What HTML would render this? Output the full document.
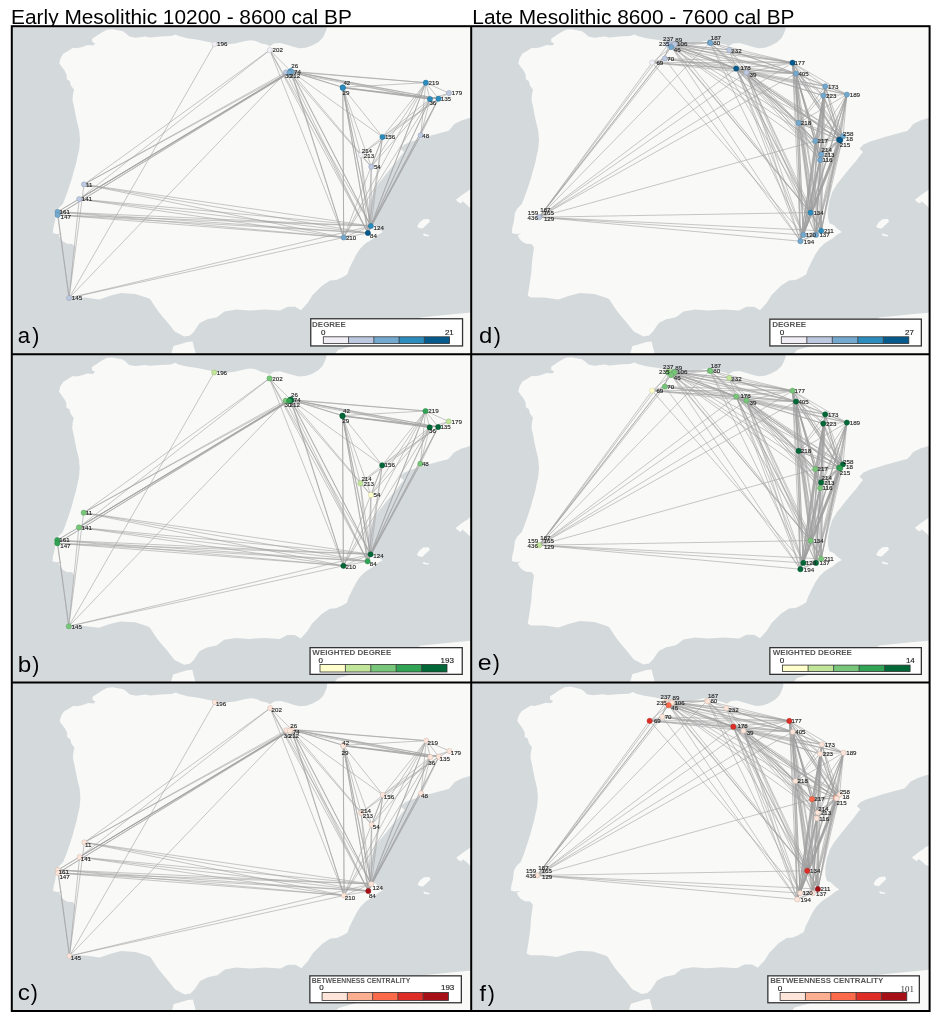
<!DOCTYPE html>
<html><head><meta charset="utf-8"><title>Mesolithic networks</title>
<style>
html,body{margin:0;padding:0;background:#fff;}
body{width:942px;height:1023px;overflow:hidden;}
svg{display:block;}
text{font-family:"Liberation Sans",Arial,Helvetica,sans-serif;}
.lbl{font-size:6.2px;fill:#222;stroke:#222;stroke-width:0.12px;}
.edge{stroke:#a0a0a0;stroke-width:1.0;stroke-opacity:0.58;fill:none;}
.lt{font-size:7.8px;fill:#3a3a3a;}
.pl{font-size:21.5px;fill:#111;}
</style></head><body>
<svg width="942" height="1023" viewBox="0 0 942 1023">
<rect x="0" y="0" width="942" height="1023" fill="#fff"/>
<text x="11.1" y="23.7" font-size="20.85" fill="#000" textLength="340.7" lengthAdjust="spacingAndGlyphs">Early Mesolithic 10200 - 8600 cal BP</text>
<text x="472.3" y="23.7" font-size="20.85" fill="#000" textLength="322.2" lengthAdjust="spacingAndGlyphs">Late Mesolithic 8600 - 7600 cal BP</text>
<defs>
<clipPath id="clipa"><rect x="11.8" y="26.2" width="459.4" height="328.1"/></clipPath>
<clipPath id="clipb"><rect x="11.8" y="354.3" width="459.4" height="328.2"/></clipPath>
<clipPath id="clipc"><rect x="11.8" y="682.5" width="459.4" height="328.5"/></clipPath>
<clipPath id="clipd"><rect x="471.2" y="26.2" width="458.4" height="328.1"/></clipPath>
<clipPath id="clipe"><rect x="471.2" y="354.3" width="458.4" height="328.2"/></clipPath>
<clipPath id="clipf"><rect x="471.2" y="682.5" width="458.4" height="328.5"/></clipPath>
</defs>
<g clip-path="url(#clipa)">
<rect x="11.8" y="26.2" width="459.4" height="328.1" fill="#d4d9dc"/>
<path transform="translate(0,0)" d="M92.2,38.7 L96.4,36.1 L101.7,32.4 L107.0,29.7 L112.3,29.2 L117.6,30.2 L122.9,31.3 L126.1,33.4 L129.3,36.6 L135.7,37.7 L145.2,36.6 L150.0,37.5 L160.6,36.6 L171.2,36.1 L175.5,34.5 L178.7,36.1 L187.2,38.2 L197.8,39.8 L208.4,41.9 L213.7,43.0 L224.3,44.6 L234.9,43.5 L245.3,40.9 L250.6,40.3 L255.9,40.9 L261.2,43.5 L266.5,44.6 L269.7,46.2 L274.0,43.5 L280.3,43.0 L287.8,45.1 L293.1,46.7 L299.4,48.3 L305.8,47.8 L312.2,45.6 L318.6,41.9 L322.8,37.7 L324.9,33.4 L326.5,29.2 L327.0,20.0 L480.0,20.0 L480.0,116.0 L471.0,117.5 L464.7,119.5 L461.8,120.3 L454.3,124.1 L451.2,127.9 L448.2,130.9 L442.2,132.4 L433.9,134.7 L425.6,136.9 L418.8,139.2 L411.3,141.4 L404.5,144.5 L400.5,148.5 L404.0,152.0 L401.0,155.5 L397.4,160.4 L389.9,169.3 L383.9,176.8 L377.9,184.3 L373.4,191.8 L370.4,200.8 L368.9,209.8 L368.9,217.2 L370.4,223.2 L374.6,224.9 L378.0,228.5 L382.9,232.0 L378.3,234.5 L373.8,238.2 L365.3,243.6 L359.9,249.0 L356.3,254.5 L352.6,261.7 L349.0,269.0 L347.2,274.4 L342.0,277.5 L336.3,279.9 L330.0,280.5 L322.0,285.7 L312.4,295.3 L307.8,302.8 L301.0,310.2 L295.2,306.8 L287.6,306.8 L280.0,310.6 L264.7,309.6 L249.4,310.6 L236.0,309.6 L224.5,311.5 L216.9,317.3 L207.3,319.2 L199.7,323.0 L194.0,331.6 L190.1,335.4 L184.4,336.4 L174.8,331.6 L167.2,322.0 L162.8,317.0 L157.6,310.6 L150.0,299.1 L147.8,298.0 L135.3,294.0 L120.9,293.1 L110.1,295.8 L99.3,299.4 L84.9,297.6 L72.3,297.6 L68.7,295.8 L70.5,285.0 L72.3,272.5 L73.2,259.9 L75.0,247.3 L72.3,244.0 L66.9,243.7 L62.4,241.0 L60.0,238.0 L58.8,235.0 L62.8,233.5 L56.6,234.0 L52.7,233.0 L53.4,227.5 L55.0,221.3 L55.8,213.4 L58.1,208.8 L62.8,204.1 L65.9,196.3 L69.1,186.9 L72.2,177.5 L73.8,171.3 L76.1,163.4 L77.7,155.6 L79.2,149.4 L80.0,140.0 L79.2,130.6 L76.9,121.3 L75.3,113.4 L73.8,105.6 L72.5,100.3 L73.0,93.9 L74.1,89.7 L70.9,85.4 L69.9,81.2 L66.7,79.1 L66.7,74.8 L64.6,70.6 L61.4,66.3 L59.2,63.2 L60.8,57.8 L63.5,53.6 L68.8,50.4 L73.0,47.8 L76.2,48.3 L81.5,47.2 L87.9,45.1 L93.2,45.6 L95.3,43.5 L92.2,41.9Z M417.2,226.3 L419.5,222.4 L423.5,219.3 L428.9,218.9 L430.1,221.6 L425.8,225.5 L422.7,228.6 L418.8,227.9Z M422.7,234.2 L424.5,233.6 L426.0,234.6 L429.3,235.0 L428.5,236.4 L424.0,235.8Z M455.9,199.7 L458.5,197.8 L461.0,195.8 L465.0,193.0 L468.0,191.1 L469.6,189.5 L480.0,186.0 L480.0,210.0 L469.6,207.5 L466.0,204.0 L462.5,201.3 L461.0,203.6 L457.9,202.0Z M170.0,360.0 L171.6,352.6 L173.4,346.1 L179.2,344.4 L187.4,342.0 L192.6,341.5 L193.8,346.7 L195.5,352.6 L196.0,360.0Z M330.0,360.0 L338.0,350.0 L360.0,344.0 L400.0,330.0 L420.6,317.5 L440.0,315.5 L455.0,314.0 L468.9,312.7 L480.0,311.0 L480.0,360.0Z" fill="#f9f9f8"/>
<g transform="translate(0,0)">
<path class="edge" d="M84.0,184.4L370.9,226.0M84.0,184.4L69.1,298.0M84.0,184.4L269.8,50.1M84.0,184.4L343.7,237.5M84.0,184.4L290.8,71.2M84.0,184.4L286.0,72.3M84.0,184.4L367.9,233.0M370.9,226.0L438.5,98.7M370.9,226.0L79.2,199.1M370.9,226.0L69.1,298.0M370.9,226.0L57.6,215.0M370.9,226.0L382.5,137.0M370.9,226.0L57.6,211.9M370.9,226.0L269.8,50.1M370.9,226.0L343.7,237.5M370.9,226.0L360.7,155.0M370.9,226.0L425.8,82.7M370.9,226.0L290.8,71.2M370.9,226.0L342.9,87.9M370.9,226.0L430.0,99.1M370.9,226.0L342.7,87.3M370.9,226.0L420.7,135.4M370.9,226.0L371.3,166.7M370.9,226.0L291.6,71.8M370.9,226.0L367.9,233.0M438.5,98.7L382.5,137.0M438.5,98.7L449.0,93.1M438.5,98.7L360.7,155.0M438.5,98.7L425.8,82.7M438.5,98.7L290.8,71.2M438.5,98.7L342.9,87.9M438.5,98.7L342.7,87.3M438.5,98.7L420.7,135.4M438.5,98.7L291.6,71.8M438.5,98.7L367.9,233.0M79.2,199.1L69.1,298.0M79.2,199.1L269.8,50.1M79.2,199.1L343.7,237.5M79.2,199.1L289.5,72.6M79.2,199.1L290.8,71.2M79.2,199.1L367.9,233.0M69.1,298.0L57.6,215.0M69.1,298.0L57.6,211.9M69.1,298.0L214.5,44.1M69.1,298.0L343.7,237.5M69.1,298.0L286.0,72.3M57.6,215.0L343.7,237.5M57.6,215.0L290.8,71.2M57.6,215.0L291.6,71.8M57.6,215.0L367.9,233.0M382.5,137.0L343.7,237.5M382.5,137.0L360.7,155.0M382.5,137.0L425.8,82.7M382.5,137.0L430.0,99.1M382.5,137.0L342.7,87.3M382.5,137.0L371.3,166.7M382.5,137.0L291.6,71.8M382.5,137.0L367.9,233.0M57.6,211.9L343.7,237.5M57.6,211.9L290.8,71.2M57.6,211.9L291.6,71.8M57.6,211.9L367.9,233.0M449.0,93.1L425.8,82.7M449.0,93.1L430.0,99.1M269.8,50.1L343.7,237.5M269.8,50.1L290.8,71.2M269.8,50.1L367.9,233.0M343.7,237.5L425.8,82.7M343.7,237.5L290.8,71.2M343.7,237.5L342.9,87.9M343.7,237.5L430.0,99.1M343.7,237.5L342.7,87.3M343.7,237.5L291.6,71.8M343.7,237.5L367.9,233.0M289.5,72.6L360.7,155.0M289.5,72.6L430.0,99.1M289.5,72.6L367.9,233.0M360.7,155.0L342.7,87.3M360.7,155.0L371.3,166.7M360.7,155.0L367.9,233.0M425.8,82.7L290.8,71.2M425.8,82.7L430.0,99.1M425.8,82.7L342.7,87.3M425.8,82.7L420.7,135.4M425.8,82.7L371.3,166.7M425.8,82.7L291.6,71.8M425.8,82.7L367.9,233.0M290.8,71.2L430.0,99.1M290.8,71.2L342.7,87.3M290.8,71.2L371.3,166.7M342.9,87.9L430.0,99.1M342.9,87.9L367.9,233.0M286.0,72.3L367.9,233.0M430.0,99.1L342.7,87.3M430.0,99.1L420.7,135.4M430.0,99.1L371.3,166.7M430.0,99.1L367.9,233.0M342.7,87.3L371.3,166.7M342.7,87.3L291.6,71.8M342.7,87.3L367.9,233.0M420.7,135.4L367.9,233.0M371.3,166.7L367.9,233.0"/>
<circle cx="214.5" cy="44.1" r="2.6" fill="#f1eef6" stroke="#c0bec4" stroke-width="0.5"/>
<circle cx="269.8" cy="50.1" r="2.6" fill="#f1eef6" stroke="#c0bec4" stroke-width="0.5"/>
<circle cx="286.0" cy="72.3" r="2.6" fill="#bdc9e1" stroke="#97a0b4" stroke-width="0.5"/>
<circle cx="290.8" cy="71.2" r="2.6" fill="#2b8cbe" stroke="#227098" stroke-width="0.5"/>
<circle cx="291.6" cy="71.8" r="2.6" fill="#74a9cf" stroke="#5c87a5" stroke-width="0.5"/>
<circle cx="289.5" cy="72.6" r="2.6" fill="#74a9cf" stroke="#5c87a5" stroke-width="0.5"/>
<circle cx="342.7" cy="87.3" r="2.6" fill="#2b8cbe" stroke="#227098" stroke-width="0.5"/>
<circle cx="342.9" cy="87.9" r="2.6" fill="#2b8cbe" stroke="#227098" stroke-width="0.5"/>
<circle cx="425.8" cy="82.7" r="2.6" fill="#2b8cbe" stroke="#227098" stroke-width="0.5"/>
<circle cx="449.0" cy="93.1" r="2.6" fill="#bdc9e1" stroke="#97a0b4" stroke-width="0.5"/>
<circle cx="430.0" cy="99.1" r="2.6" fill="#2b8cbe" stroke="#227098" stroke-width="0.5"/>
<circle cx="438.5" cy="98.7" r="2.6" fill="#2b8cbe" stroke="#227098" stroke-width="0.5"/>
<circle cx="382.5" cy="137.0" r="2.6" fill="#2b8cbe" stroke="#227098" stroke-width="0.5"/>
<circle cx="420.7" cy="135.4" r="2.6" fill="#bdc9e1" stroke="#97a0b4" stroke-width="0.5"/>
<circle cx="360.7" cy="155.0" r="2.6" fill="#f1eef6" stroke="#c0bec4" stroke-width="0.5"/>
<circle cx="371.3" cy="166.7" r="2.6" fill="#bdc9e1" stroke="#97a0b4" stroke-width="0.5"/>
<circle cx="370.9" cy="226.0" r="2.6" fill="#2b8cbe" stroke="#227098" stroke-width="0.5"/>
<circle cx="367.9" cy="233.0" r="2.6" fill="#045a8d" stroke="#034870" stroke-width="0.5"/>
<circle cx="343.7" cy="237.5" r="2.6" fill="#74a9cf" stroke="#5c87a5" stroke-width="0.5"/>
<circle cx="84.0" cy="184.4" r="2.6" fill="#bdc9e1" stroke="#97a0b4" stroke-width="0.5"/>
<circle cx="79.2" cy="199.1" r="2.6" fill="#bdc9e1" stroke="#97a0b4" stroke-width="0.5"/>
<circle cx="57.6" cy="211.9" r="2.6" fill="#74a9cf" stroke="#5c87a5" stroke-width="0.5"/>
<circle cx="57.6" cy="215.0" r="2.6" fill="#74a9cf" stroke="#5c87a5" stroke-width="0.5"/>
<circle cx="69.1" cy="298.0" r="2.6" fill="#bdc9e1" stroke="#97a0b4" stroke-width="0.5"/>
<text class="lbl" x="217.0" y="46.3">196</text>
<text class="lbl" x="272.6" y="52.3">202</text>
<text class="lbl" x="291.3" y="68.3">26</text>
<text class="lbl" x="294.0" y="73.9">74</text>
<text class="lbl" x="284.9" y="78.4">30</text>
<text class="lbl" x="289.8" y="78.4">212</text>
<text class="lbl" x="343.4" y="85.2">42</text>
<text class="lbl" x="342.6" y="94.9">29</text>
<text class="lbl" x="428.6" y="84.9">219</text>
<text class="lbl" x="451.8" y="95.3">179</text>
<text class="lbl" x="429.4" y="104.6">36</text>
<text class="lbl" x="440.7" y="100.9">135</text>
<text class="lbl" x="384.9" y="139.2">156</text>
<text class="lbl" x="422.2" y="137.6">48</text>
<text class="lbl" x="361.7" y="152.8">214</text>
<text class="lbl" x="363.8" y="158.1">213</text>
<text class="lbl" x="373.9" y="168.9">54</text>
<text class="lbl" x="373.6" y="229.5">124</text>
<text class="lbl" x="370.0" y="237.7">84</text>
<text class="lbl" x="345.9" y="240.3">210</text>
<text class="lbl" x="86.0" y="186.6">11</text>
<text class="lbl" x="81.8" y="201.3">141</text>
<text class="lbl" x="59.6" y="214.0">161</text>
<text class="lbl" x="60.5" y="219.3">147</text>
<text class="lbl" x="71.8" y="300.3">145</text>
</g>
<rect x="310.75" y="318.75" width="151.80" height="27.20" fill="#fff" stroke="#333" stroke-width="1.3"/>
<text x="312.05" y="326.50" font-size="7.98" fill="#555" font-weight="bold" textLength="33.70" lengthAdjust="spacingAndGlyphs">DEGREE</text>
<text x="320.89" y="334.70" font-size="8" fill="#222" stroke="#222" stroke-width="0.15">0</text>
<text x="453.80" y="334.70" font-size="8" fill="#222" stroke="#222" stroke-width="0.15" text-anchor="end">21</text>
<rect x="323.30" y="336.80" width="25.26" height="6.80" fill="#f1eef6"/>
<rect x="348.56" y="336.80" width="25.26" height="6.80" fill="#bdc9e1"/>
<rect x="373.82" y="336.80" width="25.26" height="6.80" fill="#74a9cf"/>
<rect x="399.08" y="336.80" width="25.26" height="6.80" fill="#2b8cbe"/>
<rect x="424.34" y="336.80" width="25.26" height="6.80" fill="#045a8d"/>
<path d="M348.56,336.80V343.60M373.82,336.80V343.60M399.08,336.80V343.60M424.34,336.80V343.60" stroke="#333" stroke-width="0.8" fill="none"/>
<rect x="323.30" y="336.80" width="126.30" height="6.80" fill="none" stroke="#333" stroke-width="0.8"/>
<text x="0" y="0" font-size="21.3" fill="#000" transform="translate(17.77,343.40) scale(1.040,1)">a</text>
<text x="32.17" y="343.40" font-size="21.3" fill="#000">)</text>
</g>
<g clip-path="url(#clipb)">
<rect x="11.8" y="354.3" width="459.4" height="328.2" fill="#d4d9dc"/>
<path transform="translate(-0.3,328.3)" d="M92.2,38.7 L96.4,36.1 L101.7,32.4 L107.0,29.7 L112.3,29.2 L117.6,30.2 L122.9,31.3 L126.1,33.4 L129.3,36.6 L135.7,37.7 L145.2,36.6 L150.0,37.5 L160.6,36.6 L171.2,36.1 L175.5,34.5 L178.7,36.1 L187.2,38.2 L197.8,39.8 L208.4,41.9 L213.7,43.0 L224.3,44.6 L234.9,43.5 L245.3,40.9 L250.6,40.3 L255.9,40.9 L261.2,43.5 L266.5,44.6 L269.7,46.2 L274.0,43.5 L280.3,43.0 L287.8,45.1 L293.1,46.7 L299.4,48.3 L305.8,47.8 L312.2,45.6 L318.6,41.9 L322.8,37.7 L324.9,33.4 L326.5,29.2 L327.0,20.0 L480.0,20.0 L480.0,116.0 L471.0,117.5 L464.7,119.5 L461.8,120.3 L454.3,124.1 L451.2,127.9 L448.2,130.9 L442.2,132.4 L433.9,134.7 L425.6,136.9 L418.8,139.2 L411.3,141.4 L404.5,144.5 L400.5,148.5 L404.0,152.0 L401.0,155.5 L397.4,160.4 L389.9,169.3 L383.9,176.8 L377.9,184.3 L373.4,191.8 L370.4,200.8 L368.9,209.8 L368.9,217.2 L370.4,223.2 L374.6,224.9 L378.0,228.5 L382.9,232.0 L378.3,234.5 L373.8,238.2 L365.3,243.6 L359.9,249.0 L356.3,254.5 L352.6,261.7 L349.0,269.0 L347.2,274.4 L342.0,277.5 L336.3,279.9 L330.0,280.5 L322.0,285.7 L312.4,295.3 L307.8,302.8 L301.0,310.2 L295.2,306.8 L287.6,306.8 L280.0,310.6 L264.7,309.6 L249.4,310.6 L236.0,309.6 L224.5,311.5 L216.9,317.3 L207.3,319.2 L199.7,323.0 L194.0,331.6 L190.1,335.4 L184.4,336.4 L174.8,331.6 L167.2,322.0 L162.8,317.0 L157.6,310.6 L150.0,299.1 L147.8,298.0 L135.3,294.0 L120.9,293.1 L110.1,295.8 L99.3,299.4 L84.9,297.6 L72.3,297.6 L68.7,295.8 L70.5,285.0 L72.3,272.5 L73.2,259.9 L75.0,247.3 L72.3,244.0 L66.9,243.7 L62.4,241.0 L60.0,238.0 L58.8,235.0 L62.8,233.5 L56.6,234.0 L52.7,233.0 L53.4,227.5 L55.0,221.3 L55.8,213.4 L58.1,208.8 L62.8,204.1 L65.9,196.3 L69.1,186.9 L72.2,177.5 L73.8,171.3 L76.1,163.4 L77.7,155.6 L79.2,149.4 L80.0,140.0 L79.2,130.6 L76.9,121.3 L75.3,113.4 L73.8,105.6 L72.5,100.3 L73.0,93.9 L74.1,89.7 L70.9,85.4 L69.9,81.2 L66.7,79.1 L66.7,74.8 L64.6,70.6 L61.4,66.3 L59.2,63.2 L60.8,57.8 L63.5,53.6 L68.8,50.4 L73.0,47.8 L76.2,48.3 L81.5,47.2 L87.9,45.1 L93.2,45.6 L95.3,43.5 L92.2,41.9Z M417.2,226.3 L419.5,222.4 L423.5,219.3 L428.9,218.9 L430.1,221.6 L425.8,225.5 L422.7,228.6 L418.8,227.9Z M422.7,234.2 L424.5,233.6 L426.0,234.6 L429.3,235.0 L428.5,236.4 L424.0,235.8Z M455.9,199.7 L458.5,197.8 L461.0,195.8 L465.0,193.0 L468.0,191.1 L469.6,189.5 L480.0,186.0 L480.0,210.0 L469.6,207.5 L466.0,204.0 L462.5,201.3 L461.0,203.6 L457.9,202.0Z M170.0,360.0 L171.6,352.6 L173.4,346.1 L179.2,344.4 L187.4,342.0 L192.6,341.5 L193.8,346.7 L195.5,352.6 L196.0,360.0Z M330.0,360.0 L338.0,350.0 L360.0,344.0 L400.0,330.0 L420.6,317.5 L440.0,315.5 L455.0,314.0 L468.9,312.7 L480.0,311.0 L480.0,360.0Z" fill="#f9f9f8"/>
<g transform="translate(-0.3,328.3)">
<path class="edge" d="M84.0,184.4L370.9,226.0M84.0,184.4L69.1,298.0M84.0,184.4L269.8,50.1M84.0,184.4L343.7,237.5M84.0,184.4L290.8,71.2M84.0,184.4L286.0,72.3M84.0,184.4L367.9,233.0M370.9,226.0L438.5,98.7M370.9,226.0L79.2,199.1M370.9,226.0L69.1,298.0M370.9,226.0L57.6,215.0M370.9,226.0L382.5,137.0M370.9,226.0L57.6,211.9M370.9,226.0L269.8,50.1M370.9,226.0L343.7,237.5M370.9,226.0L360.7,155.0M370.9,226.0L425.8,82.7M370.9,226.0L290.8,71.2M370.9,226.0L342.9,87.9M370.9,226.0L430.0,99.1M370.9,226.0L342.7,87.3M370.9,226.0L420.7,135.4M370.9,226.0L371.3,166.7M370.9,226.0L291.6,71.8M370.9,226.0L367.9,233.0M438.5,98.7L382.5,137.0M438.5,98.7L449.0,93.1M438.5,98.7L360.7,155.0M438.5,98.7L425.8,82.7M438.5,98.7L290.8,71.2M438.5,98.7L342.9,87.9M438.5,98.7L342.7,87.3M438.5,98.7L420.7,135.4M438.5,98.7L291.6,71.8M438.5,98.7L367.9,233.0M79.2,199.1L69.1,298.0M79.2,199.1L269.8,50.1M79.2,199.1L343.7,237.5M79.2,199.1L289.5,72.6M79.2,199.1L290.8,71.2M79.2,199.1L367.9,233.0M69.1,298.0L57.6,215.0M69.1,298.0L57.6,211.9M69.1,298.0L214.5,44.1M69.1,298.0L343.7,237.5M69.1,298.0L286.0,72.3M57.6,215.0L343.7,237.5M57.6,215.0L290.8,71.2M57.6,215.0L291.6,71.8M57.6,215.0L367.9,233.0M382.5,137.0L343.7,237.5M382.5,137.0L360.7,155.0M382.5,137.0L425.8,82.7M382.5,137.0L430.0,99.1M382.5,137.0L342.7,87.3M382.5,137.0L371.3,166.7M382.5,137.0L291.6,71.8M382.5,137.0L367.9,233.0M57.6,211.9L343.7,237.5M57.6,211.9L290.8,71.2M57.6,211.9L291.6,71.8M57.6,211.9L367.9,233.0M449.0,93.1L425.8,82.7M449.0,93.1L430.0,99.1M269.8,50.1L343.7,237.5M269.8,50.1L290.8,71.2M269.8,50.1L367.9,233.0M343.7,237.5L425.8,82.7M343.7,237.5L290.8,71.2M343.7,237.5L342.9,87.9M343.7,237.5L430.0,99.1M343.7,237.5L342.7,87.3M343.7,237.5L291.6,71.8M343.7,237.5L367.9,233.0M289.5,72.6L360.7,155.0M289.5,72.6L430.0,99.1M289.5,72.6L367.9,233.0M360.7,155.0L342.7,87.3M360.7,155.0L371.3,166.7M360.7,155.0L367.9,233.0M425.8,82.7L290.8,71.2M425.8,82.7L430.0,99.1M425.8,82.7L342.7,87.3M425.8,82.7L420.7,135.4M425.8,82.7L371.3,166.7M425.8,82.7L291.6,71.8M425.8,82.7L367.9,233.0M290.8,71.2L430.0,99.1M290.8,71.2L342.7,87.3M290.8,71.2L371.3,166.7M342.9,87.9L430.0,99.1M342.9,87.9L367.9,233.0M286.0,72.3L367.9,233.0M430.0,99.1L342.7,87.3M430.0,99.1L420.7,135.4M430.0,99.1L371.3,166.7M430.0,99.1L367.9,233.0M342.7,87.3L371.3,166.7M342.7,87.3L291.6,71.8M342.7,87.3L367.9,233.0M420.7,135.4L367.9,233.0M371.3,166.7L367.9,233.0"/>
<circle cx="214.5" cy="44.1" r="2.6" fill="#c2e699" stroke="#9bb87a" stroke-width="0.5"/>
<circle cx="269.8" cy="50.1" r="2.6" fill="#78c679" stroke="#609e60" stroke-width="0.5"/>
<circle cx="286.0" cy="72.3" r="2.6" fill="#78c679" stroke="#609e60" stroke-width="0.5"/>
<circle cx="290.8" cy="71.2" r="2.6" fill="#006837" stroke="#00532c" stroke-width="0.5"/>
<circle cx="291.6" cy="71.8" r="2.6" fill="#006837" stroke="#00532c" stroke-width="0.5"/>
<circle cx="289.5" cy="72.6" r="2.6" fill="#31a354" stroke="#278243" stroke-width="0.5"/>
<circle cx="342.7" cy="87.3" r="2.6" fill="#006837" stroke="#00532c" stroke-width="0.5"/>
<circle cx="342.9" cy="87.9" r="2.6" fill="#006837" stroke="#00532c" stroke-width="0.5"/>
<circle cx="425.8" cy="82.7" r="2.6" fill="#31a354" stroke="#278243" stroke-width="0.5"/>
<circle cx="449.0" cy="93.1" r="2.6" fill="#c2e699" stroke="#9bb87a" stroke-width="0.5"/>
<circle cx="430.0" cy="99.1" r="2.6" fill="#006837" stroke="#00532c" stroke-width="0.5"/>
<circle cx="438.5" cy="98.7" r="2.6" fill="#006837" stroke="#00532c" stroke-width="0.5"/>
<circle cx="382.5" cy="137.0" r="2.6" fill="#006837" stroke="#00532c" stroke-width="0.5"/>
<circle cx="420.7" cy="135.4" r="2.6" fill="#78c679" stroke="#609e60" stroke-width="0.5"/>
<circle cx="360.7" cy="155.0" r="2.6" fill="#c2e699" stroke="#9bb87a" stroke-width="0.5"/>
<circle cx="371.3" cy="166.7" r="2.6" fill="#ffffcc" stroke="#cccca3" stroke-width="0.5"/>
<circle cx="370.9" cy="226.0" r="2.6" fill="#006837" stroke="#00532c" stroke-width="0.5"/>
<circle cx="367.9" cy="233.0" r="2.6" fill="#31a354" stroke="#278243" stroke-width="0.5"/>
<circle cx="343.7" cy="237.5" r="2.6" fill="#006837" stroke="#00532c" stroke-width="0.5"/>
<circle cx="84.0" cy="184.4" r="2.6" fill="#78c679" stroke="#609e60" stroke-width="0.5"/>
<circle cx="79.2" cy="199.1" r="2.6" fill="#78c679" stroke="#609e60" stroke-width="0.5"/>
<circle cx="57.6" cy="211.9" r="2.6" fill="#31a354" stroke="#278243" stroke-width="0.5"/>
<circle cx="57.6" cy="215.0" r="2.6" fill="#31a354" stroke="#278243" stroke-width="0.5"/>
<circle cx="69.1" cy="298.0" r="2.6" fill="#78c679" stroke="#609e60" stroke-width="0.5"/>
<text class="lbl" x="217.0" y="46.3">196</text>
<text class="lbl" x="272.6" y="52.3">202</text>
<text class="lbl" x="291.3" y="68.3">26</text>
<text class="lbl" x="294.0" y="73.9">74</text>
<text class="lbl" x="284.9" y="78.4">30</text>
<text class="lbl" x="289.8" y="78.4">212</text>
<text class="lbl" x="343.4" y="85.2">42</text>
<text class="lbl" x="342.6" y="94.9">29</text>
<text class="lbl" x="428.6" y="84.9">219</text>
<text class="lbl" x="451.8" y="95.3">179</text>
<text class="lbl" x="429.4" y="104.6">36</text>
<text class="lbl" x="440.7" y="100.9">135</text>
<text class="lbl" x="384.9" y="139.2">156</text>
<text class="lbl" x="422.2" y="137.6">48</text>
<text class="lbl" x="361.7" y="152.8">214</text>
<text class="lbl" x="363.8" y="158.1">213</text>
<text class="lbl" x="373.9" y="168.9">54</text>
<text class="lbl" x="373.6" y="229.5">124</text>
<text class="lbl" x="370.0" y="237.7">84</text>
<text class="lbl" x="345.9" y="240.3">210</text>
<text class="lbl" x="86.0" y="186.6">11</text>
<text class="lbl" x="81.8" y="201.3">141</text>
<text class="lbl" x="59.6" y="214.0">161</text>
<text class="lbl" x="60.5" y="219.3">147</text>
<text class="lbl" x="71.8" y="300.3">145</text>
</g>
<rect x="310.05" y="647.65" width="152.20" height="26.70" fill="#fff" stroke="#333" stroke-width="1.3"/>
<text x="312.36" y="654.50" font-size="7.98" fill="#555" font-weight="bold" textLength="78.88" lengthAdjust="spacingAndGlyphs">WEIGHTED DEGREE</text>
<text x="318.39" y="662.70" font-size="8" fill="#222" stroke="#222" stroke-width="0.15">0</text>
<text x="453.90" y="663.00" font-size="8" fill="#222" stroke="#222" stroke-width="0.15" text-anchor="end">193</text>
<rect x="320.00" y="664.40" width="25.40" height="7.60" fill="#ffffcc"/>
<rect x="345.40" y="664.40" width="25.40" height="7.60" fill="#c2e699"/>
<rect x="370.80" y="664.40" width="25.40" height="7.60" fill="#78c679"/>
<rect x="396.20" y="664.40" width="25.40" height="7.60" fill="#31a354"/>
<rect x="421.60" y="664.40" width="25.40" height="7.60" fill="#006837"/>
<path d="M345.40,664.40V672.00M370.80,664.40V672.00M396.20,664.40V672.00M421.60,664.40V672.00" stroke="#333" stroke-width="0.8" fill="none"/>
<rect x="320.00" y="664.40" width="127.00" height="7.60" fill="none" stroke="#333" stroke-width="0.8"/>
<text x="0" y="0" font-size="21.3" fill="#000" transform="translate(17.65,671.60) scale(1.140,1)">b</text>
<text x="32.17" y="671.60" font-size="21.3" fill="#000">)</text>
</g>
<g clip-path="url(#clipc)">
<rect x="11.8" y="682.5" width="459.4" height="328.5" fill="#d4d9dc"/>
<path transform="translate(0.4,658)" d="M92.2,38.7 L96.4,36.1 L101.7,32.4 L107.0,29.7 L112.3,29.2 L117.6,30.2 L122.9,31.3 L126.1,33.4 L129.3,36.6 L135.7,37.7 L145.2,36.6 L150.0,37.5 L160.6,36.6 L171.2,36.1 L175.5,34.5 L178.7,36.1 L187.2,38.2 L197.8,39.8 L208.4,41.9 L213.7,43.0 L224.3,44.6 L234.9,43.5 L245.3,40.9 L250.6,40.3 L255.9,40.9 L261.2,43.5 L266.5,44.6 L269.7,46.2 L274.0,43.5 L280.3,43.0 L287.8,45.1 L293.1,46.7 L299.4,48.3 L305.8,47.8 L312.2,45.6 L318.6,41.9 L322.8,37.7 L324.9,33.4 L326.5,29.2 L327.0,20.0 L480.0,20.0 L480.0,116.0 L471.0,117.5 L464.7,119.5 L461.8,120.3 L454.3,124.1 L451.2,127.9 L448.2,130.9 L442.2,132.4 L433.9,134.7 L425.6,136.9 L418.8,139.2 L411.3,141.4 L404.5,144.5 L400.5,148.5 L404.0,152.0 L401.0,155.5 L397.4,160.4 L389.9,169.3 L383.9,176.8 L377.9,184.3 L373.4,191.8 L370.4,200.8 L368.9,209.8 L368.9,217.2 L370.4,223.2 L374.6,224.9 L378.0,228.5 L382.9,232.0 L378.3,234.5 L373.8,238.2 L365.3,243.6 L359.9,249.0 L356.3,254.5 L352.6,261.7 L349.0,269.0 L347.2,274.4 L342.0,277.5 L336.3,279.9 L330.0,280.5 L322.0,285.7 L312.4,295.3 L307.8,302.8 L301.0,310.2 L295.2,306.8 L287.6,306.8 L280.0,310.6 L264.7,309.6 L249.4,310.6 L236.0,309.6 L224.5,311.5 L216.9,317.3 L207.3,319.2 L199.7,323.0 L194.0,331.6 L190.1,335.4 L184.4,336.4 L174.8,331.6 L167.2,322.0 L162.8,317.0 L157.6,310.6 L150.0,299.1 L147.8,298.0 L135.3,294.0 L120.9,293.1 L110.1,295.8 L99.3,299.4 L84.9,297.6 L72.3,297.6 L68.7,295.8 L70.5,285.0 L72.3,272.5 L73.2,259.9 L75.0,247.3 L72.3,244.0 L66.9,243.7 L62.4,241.0 L60.0,238.0 L58.8,235.0 L62.8,233.5 L56.6,234.0 L52.7,233.0 L53.4,227.5 L55.0,221.3 L55.8,213.4 L58.1,208.8 L62.8,204.1 L65.9,196.3 L69.1,186.9 L72.2,177.5 L73.8,171.3 L76.1,163.4 L77.7,155.6 L79.2,149.4 L80.0,140.0 L79.2,130.6 L76.9,121.3 L75.3,113.4 L73.8,105.6 L72.5,100.3 L73.0,93.9 L74.1,89.7 L70.9,85.4 L69.9,81.2 L66.7,79.1 L66.7,74.8 L64.6,70.6 L61.4,66.3 L59.2,63.2 L60.8,57.8 L63.5,53.6 L68.8,50.4 L73.0,47.8 L76.2,48.3 L81.5,47.2 L87.9,45.1 L93.2,45.6 L95.3,43.5 L92.2,41.9Z M417.2,226.3 L419.5,222.4 L423.5,219.3 L428.9,218.9 L430.1,221.6 L425.8,225.5 L422.7,228.6 L418.8,227.9Z M422.7,234.2 L424.5,233.6 L426.0,234.6 L429.3,235.0 L428.5,236.4 L424.0,235.8Z M455.9,199.7 L458.5,197.8 L461.0,195.8 L465.0,193.0 L468.0,191.1 L469.6,189.5 L480.0,186.0 L480.0,210.0 L469.6,207.5 L466.0,204.0 L462.5,201.3 L461.0,203.6 L457.9,202.0Z M170.0,360.0 L171.6,352.6 L173.4,346.1 L179.2,344.4 L187.4,342.0 L192.6,341.5 L193.8,346.7 L195.5,352.6 L196.0,360.0Z M330.0,360.0 L338.0,350.0 L360.0,344.0 L400.0,330.0 L420.6,317.5 L440.0,315.5 L455.0,314.0 L468.9,312.7 L480.0,311.0 L480.0,360.0Z" fill="#f9f9f8"/>
<g transform="translate(0.4,658)">
<path class="edge" d="M84.0,184.4L370.9,226.0M84.0,184.4L69.1,298.0M84.0,184.4L269.8,50.1M84.0,184.4L343.7,237.5M84.0,184.4L290.8,71.2M84.0,184.4L286.0,72.3M84.0,184.4L367.9,233.0M370.9,226.0L438.5,98.7M370.9,226.0L79.2,199.1M370.9,226.0L69.1,298.0M370.9,226.0L57.6,215.0M370.9,226.0L382.5,137.0M370.9,226.0L57.6,211.9M370.9,226.0L269.8,50.1M370.9,226.0L343.7,237.5M370.9,226.0L360.7,155.0M370.9,226.0L425.8,82.7M370.9,226.0L290.8,71.2M370.9,226.0L342.9,87.9M370.9,226.0L430.0,99.1M370.9,226.0L342.7,87.3M370.9,226.0L420.7,135.4M370.9,226.0L371.3,166.7M370.9,226.0L291.6,71.8M370.9,226.0L367.9,233.0M438.5,98.7L382.5,137.0M438.5,98.7L449.0,93.1M438.5,98.7L360.7,155.0M438.5,98.7L425.8,82.7M438.5,98.7L290.8,71.2M438.5,98.7L342.9,87.9M438.5,98.7L342.7,87.3M438.5,98.7L420.7,135.4M438.5,98.7L291.6,71.8M438.5,98.7L367.9,233.0M79.2,199.1L69.1,298.0M79.2,199.1L269.8,50.1M79.2,199.1L343.7,237.5M79.2,199.1L289.5,72.6M79.2,199.1L290.8,71.2M79.2,199.1L367.9,233.0M69.1,298.0L57.6,215.0M69.1,298.0L57.6,211.9M69.1,298.0L214.5,44.1M69.1,298.0L343.7,237.5M69.1,298.0L286.0,72.3M57.6,215.0L343.7,237.5M57.6,215.0L290.8,71.2M57.6,215.0L291.6,71.8M57.6,215.0L367.9,233.0M382.5,137.0L343.7,237.5M382.5,137.0L360.7,155.0M382.5,137.0L425.8,82.7M382.5,137.0L430.0,99.1M382.5,137.0L342.7,87.3M382.5,137.0L371.3,166.7M382.5,137.0L291.6,71.8M382.5,137.0L367.9,233.0M57.6,211.9L343.7,237.5M57.6,211.9L290.8,71.2M57.6,211.9L291.6,71.8M57.6,211.9L367.9,233.0M449.0,93.1L425.8,82.7M449.0,93.1L430.0,99.1M269.8,50.1L343.7,237.5M269.8,50.1L290.8,71.2M269.8,50.1L367.9,233.0M343.7,237.5L425.8,82.7M343.7,237.5L290.8,71.2M343.7,237.5L342.9,87.9M343.7,237.5L430.0,99.1M343.7,237.5L342.7,87.3M343.7,237.5L291.6,71.8M343.7,237.5L367.9,233.0M289.5,72.6L360.7,155.0M289.5,72.6L430.0,99.1M289.5,72.6L367.9,233.0M360.7,155.0L342.7,87.3M360.7,155.0L371.3,166.7M360.7,155.0L367.9,233.0M425.8,82.7L290.8,71.2M425.8,82.7L430.0,99.1M425.8,82.7L342.7,87.3M425.8,82.7L420.7,135.4M425.8,82.7L371.3,166.7M425.8,82.7L291.6,71.8M425.8,82.7L367.9,233.0M290.8,71.2L430.0,99.1M290.8,71.2L342.7,87.3M290.8,71.2L371.3,166.7M342.9,87.9L430.0,99.1M342.9,87.9L367.9,233.0M286.0,72.3L367.9,233.0M430.0,99.1L342.7,87.3M430.0,99.1L420.7,135.4M430.0,99.1L371.3,166.7M430.0,99.1L367.9,233.0M342.7,87.3L371.3,166.7M342.7,87.3L291.6,71.8M342.7,87.3L367.9,233.0M420.7,135.4L367.9,233.0M371.3,166.7L367.9,233.0"/>
<circle cx="214.5" cy="44.1" r="2.6" fill="#fee5d9" stroke="#cbb7ad" stroke-width="0.5"/>
<circle cx="269.8" cy="50.1" r="2.6" fill="#fee5d9" stroke="#cbb7ad" stroke-width="0.5"/>
<circle cx="286.0" cy="72.3" r="2.6" fill="#fee5d9" stroke="#cbb7ad" stroke-width="0.5"/>
<circle cx="290.8" cy="71.2" r="2.6" fill="#fee5d9" stroke="#cbb7ad" stroke-width="0.5"/>
<circle cx="291.6" cy="71.8" r="2.6" fill="#fee5d9" stroke="#cbb7ad" stroke-width="0.5"/>
<circle cx="289.5" cy="72.6" r="2.6" fill="#fee5d9" stroke="#cbb7ad" stroke-width="0.5"/>
<circle cx="342.7" cy="87.3" r="2.6" fill="#fee5d9" stroke="#cbb7ad" stroke-width="0.5"/>
<circle cx="342.9" cy="87.9" r="2.6" fill="#fee5d9" stroke="#cbb7ad" stroke-width="0.5"/>
<circle cx="425.8" cy="82.7" r="2.6" fill="#fee5d9" stroke="#cbb7ad" stroke-width="0.5"/>
<circle cx="449.0" cy="93.1" r="2.6" fill="#fee5d9" stroke="#cbb7ad" stroke-width="0.5"/>
<circle cx="430.0" cy="99.1" r="2.6" fill="#fee5d9" stroke="#cbb7ad" stroke-width="0.5"/>
<circle cx="438.5" cy="98.7" r="2.6" fill="#fee5d9" stroke="#cbb7ad" stroke-width="0.5"/>
<circle cx="382.5" cy="137.0" r="2.6" fill="#fee5d9" stroke="#cbb7ad" stroke-width="0.5"/>
<circle cx="420.7" cy="135.4" r="2.6" fill="#fee5d9" stroke="#cbb7ad" stroke-width="0.5"/>
<circle cx="360.7" cy="155.0" r="2.6" fill="#fee5d9" stroke="#cbb7ad" stroke-width="0.5"/>
<circle cx="371.3" cy="166.7" r="2.6" fill="#fee5d9" stroke="#cbb7ad" stroke-width="0.5"/>
<circle cx="370.9" cy="226.0" r="2.6" fill="#fee5d9" stroke="#cbb7ad" stroke-width="0.5"/>
<circle cx="367.9" cy="233.0" r="2.6" fill="#a50f15" stroke="#840c10" stroke-width="0.5"/>
<circle cx="343.7" cy="237.5" r="2.6" fill="#fee5d9" stroke="#cbb7ad" stroke-width="0.5"/>
<circle cx="84.0" cy="184.4" r="2.6" fill="#fee5d9" stroke="#cbb7ad" stroke-width="0.5"/>
<circle cx="79.2" cy="199.1" r="2.6" fill="#fee5d9" stroke="#cbb7ad" stroke-width="0.5"/>
<circle cx="57.6" cy="211.9" r="2.6" fill="#fee5d9" stroke="#cbb7ad" stroke-width="0.5"/>
<circle cx="57.6" cy="215.0" r="2.6" fill="#fee5d9" stroke="#cbb7ad" stroke-width="0.5"/>
<circle cx="69.1" cy="298.0" r="2.6" fill="#fee5d9" stroke="#cbb7ad" stroke-width="0.5"/>
<text class="lbl" x="215.5" y="48.3">196</text>
<text class="lbl" x="271.1" y="54.3">202</text>
<text class="lbl" x="289.8" y="70.3">26</text>
<text class="lbl" x="292.5" y="75.9">74</text>
<text class="lbl" x="283.4" y="80.4">30</text>
<text class="lbl" x="288.3" y="80.4">212</text>
<text class="lbl" x="341.9" y="87.2">42</text>
<text class="lbl" x="341.1" y="96.9">29</text>
<text class="lbl" x="427.1" y="86.9">219</text>
<text class="lbl" x="450.3" y="97.3">179</text>
<text class="lbl" x="427.9" y="106.6">36</text>
<text class="lbl" x="439.2" y="102.9">135</text>
<text class="lbl" x="383.4" y="141.2">156</text>
<text class="lbl" x="420.7" y="139.6">48</text>
<text class="lbl" x="360.2" y="154.8">214</text>
<text class="lbl" x="362.3" y="160.1">213</text>
<text class="lbl" x="372.4" y="170.9">54</text>
<text class="lbl" x="372.1" y="231.5">124</text>
<text class="lbl" x="368.5" y="239.7">84</text>
<text class="lbl" x="344.4" y="242.3">210</text>
<text class="lbl" x="84.5" y="188.6">11</text>
<text class="lbl" x="80.3" y="203.3">141</text>
<text class="lbl" x="58.1" y="216.0">161</text>
<text class="lbl" x="59.0" y="221.3">147</text>
<text class="lbl" x="70.3" y="302.3">145</text>
</g>
<rect x="309.85" y="975.85" width="151.50" height="26.90" fill="#fff" stroke="#333" stroke-width="1.3"/>
<text x="311.83" y="982.50" font-size="6.95" fill="#555" font-weight="bold" textLength="98.52" lengthAdjust="spacingAndGlyphs">BETWEENNESS CENTRALITY</text>
<text x="319.29" y="990.30" font-size="8" fill="#222" stroke="#222" stroke-width="0.15">0</text>
<text x="454.30" y="990.30" font-size="8" fill="#222" stroke="#222" stroke-width="0.15" text-anchor="end">193</text>
<rect x="322.10" y="992.40" width="25.26" height="8.10" fill="#fee5d9"/>
<rect x="347.36" y="992.40" width="25.26" height="8.10" fill="#fcae91"/>
<rect x="372.62" y="992.40" width="25.26" height="8.10" fill="#fb6a4a"/>
<rect x="397.88" y="992.40" width="25.26" height="8.10" fill="#de2d26"/>
<rect x="423.14" y="992.40" width="25.26" height="8.10" fill="#a50f15"/>
<path d="M347.36,992.40V1000.50M372.62,992.40V1000.50M397.88,992.40V1000.50M423.14,992.40V1000.50" stroke="#333" stroke-width="0.8" fill="none"/>
<rect x="322.10" y="992.40" width="126.30" height="8.10" fill="none" stroke="#333" stroke-width="0.8"/>
<text x="0" y="0" font-size="21.3" fill="#000" transform="translate(17.68,999.80) scale(1.140,1)">c</text>
<text x="30.67" y="999.80" font-size="21.3" fill="#000">)</text>
</g>
<g clip-path="url(#clipd)">
<rect x="471.2" y="26.2" width="458.4" height="328.1" fill="#d4d9dc"/>
<path transform="translate(459,0)" d="M92.2,38.7 L96.4,36.1 L101.7,32.4 L107.0,29.7 L112.3,29.2 L117.6,30.2 L122.9,31.3 L126.1,33.4 L129.3,36.6 L135.7,37.7 L145.2,36.6 L150.0,37.5 L160.6,36.6 L171.2,36.1 L175.5,34.5 L178.7,36.1 L187.2,38.2 L197.8,39.8 L208.4,41.9 L213.7,43.0 L224.3,44.6 L234.9,43.5 L245.3,40.9 L250.6,40.3 L255.9,40.9 L261.2,43.5 L266.5,44.6 L269.7,46.2 L274.0,43.5 L280.3,43.0 L287.8,45.1 L293.1,46.7 L299.4,48.3 L305.8,47.8 L312.2,45.6 L318.6,41.9 L322.8,37.7 L324.9,33.4 L326.5,29.2 L327.0,20.0 L480.0,20.0 L480.0,116.0 L471.0,117.5 L464.7,119.5 L461.8,120.3 L454.3,124.1 L451.2,127.9 L448.2,130.9 L442.2,132.4 L433.9,134.7 L425.6,136.9 L418.8,139.2 L411.3,141.4 L404.5,144.5 L400.5,148.5 L404.0,152.0 L401.0,155.5 L397.4,160.4 L389.9,169.3 L383.9,176.8 L377.9,184.3 L373.4,191.8 L370.4,200.8 L368.9,209.8 L368.9,217.2 L370.4,223.2 L374.6,224.9 L378.0,228.5 L382.9,232.0 L378.3,234.5 L373.8,238.2 L365.3,243.6 L359.9,249.0 L356.3,254.5 L352.6,261.7 L349.0,269.0 L347.2,274.4 L342.0,277.5 L336.3,279.9 L330.0,280.5 L322.0,285.7 L312.4,295.3 L307.8,302.8 L301.0,310.2 L295.2,306.8 L287.6,306.8 L280.0,310.6 L264.7,309.6 L249.4,310.6 L236.0,309.6 L224.5,311.5 L216.9,317.3 L207.3,319.2 L199.7,323.0 L194.0,331.6 L190.1,335.4 L184.4,336.4 L174.8,331.6 L167.2,322.0 L162.8,317.0 L157.6,310.6 L150.0,299.1 L147.8,298.0 L135.3,294.0 L120.9,293.1 L110.1,295.8 L99.3,299.4 L84.9,297.6 L72.3,297.6 L68.7,295.8 L70.5,285.0 L72.3,272.5 L73.2,259.9 L75.0,247.3 L72.3,244.0 L66.9,243.7 L62.4,241.0 L60.0,238.0 L58.8,235.0 L62.8,233.5 L56.6,234.0 L52.7,233.0 L53.4,227.5 L55.0,221.3 L55.8,213.4 L58.1,208.8 L62.8,204.1 L65.9,196.3 L69.1,186.9 L72.2,177.5 L73.8,171.3 L76.1,163.4 L77.7,155.6 L79.2,149.4 L80.0,140.0 L79.2,130.6 L76.9,121.3 L75.3,113.4 L73.8,105.6 L72.5,100.3 L73.0,93.9 L74.1,89.7 L70.9,85.4 L69.9,81.2 L66.7,79.1 L66.7,74.8 L64.6,70.6 L61.4,66.3 L59.2,63.2 L60.8,57.8 L63.5,53.6 L68.8,50.4 L73.0,47.8 L76.2,48.3 L81.5,47.2 L87.9,45.1 L93.2,45.6 L95.3,43.5 L92.2,41.9Z M417.2,226.3 L419.5,222.4 L423.5,219.3 L428.9,218.9 L430.1,221.6 L425.8,225.5 L422.7,228.6 L418.8,227.9Z M422.7,234.2 L424.5,233.6 L426.0,234.6 L429.3,235.0 L428.5,236.4 L424.0,235.8Z M455.9,199.7 L458.5,197.8 L461.0,195.8 L465.0,193.0 L468.0,191.1 L469.6,189.5 L480.0,186.0 L480.0,210.0 L469.6,207.5 L466.0,204.0 L462.5,201.3 L461.0,203.6 L457.9,202.0Z M170.0,360.0 L171.6,352.6 L173.4,346.1 L179.2,344.4 L187.4,342.0 L192.6,341.5 L193.8,346.7 L195.5,352.6 L196.0,360.0Z M330.0,360.0 L338.0,350.0 L360.0,344.0 L400.0,330.0 L420.6,317.5 L440.0,315.5 L455.0,314.0 L468.9,312.7 L480.0,311.0 L480.0,360.0Z" fill="#f9f9f8"/>
<g transform="translate(0,0)">
<path class="edge" d="M674.5,44.5L729.2,49.9M820.1,160.1L803.4,234.9M820.1,160.1L810.5,212.6M820.1,160.1L816.0,234.9M820.1,160.1L825.2,86.3M820.1,160.1L792.5,62.7M820.1,160.1L736.2,68.5M820.1,160.1L839.2,139.6M820.1,160.1L846.9,94.6M820.1,160.1L800.4,241.2M820.1,160.1L821.2,230.8M820.1,160.1L821.1,154.4M820.1,160.1L840.2,140.3M820.1,160.1L815.3,141.0M820.1,160.1L798.6,122.9M820.1,160.1L823.3,95.6M820.1,160.1L843.0,136.3M820.1,160.1L746.4,72.6M820.1,160.1L796.0,73.6M803.4,234.9L810.5,212.6M803.4,234.9L816.0,234.9M803.4,234.9L825.2,86.3M803.4,234.9L792.5,62.7M803.4,234.9L736.2,68.5M803.4,234.9L839.2,139.6M803.4,234.9L709.8,42.6M803.4,234.9L846.9,94.6M803.4,234.9L800.4,241.2M803.4,234.9L821.2,230.8M803.4,234.9L821.1,154.4M803.4,234.9L840.2,140.3M803.4,234.9L815.3,141.0M803.4,234.9L798.6,122.9M803.4,234.9L823.3,95.6M803.4,234.9L843.0,136.3M803.4,234.9L746.4,72.6M803.4,234.9L796.0,73.6M803.4,234.9L652.1,62.6M803.4,234.9L539.2,217.2M810.5,212.6L816.0,234.9M810.5,212.6L825.2,86.3M810.5,212.6L792.5,62.7M810.5,212.6L736.2,68.5M810.5,212.6L839.2,139.6M810.5,212.6L846.9,94.6M810.5,212.6L800.4,241.2M810.5,212.6L821.2,230.8M810.5,212.6L821.1,154.4M810.5,212.6L840.2,140.3M810.5,212.6L815.3,141.0M810.5,212.6L798.6,122.9M810.5,212.6L823.3,95.6M810.5,212.6L669.0,43.3M810.5,212.6L843.0,136.3M810.5,212.6L746.4,72.6M810.5,212.6L796.0,73.6M810.5,212.6L671.2,47.1M810.5,212.6L673.8,43.9M810.5,212.6L539.2,217.2M816.0,234.9L825.2,86.3M816.0,234.9L792.5,62.7M816.0,234.9L736.2,68.5M816.0,234.9L839.2,139.6M816.0,234.9L846.9,94.6M816.0,234.9L800.4,241.2M816.0,234.9L821.2,230.8M816.0,234.9L821.1,154.4M816.0,234.9L840.2,140.3M816.0,234.9L815.3,141.0M816.0,234.9L798.6,122.9M816.0,234.9L823.3,95.6M816.0,234.9L843.0,136.3M816.0,234.9L746.4,72.6M816.0,234.9L796.0,73.6M825.2,86.3L792.5,62.7M825.2,86.3L736.2,68.5M825.2,86.3L839.2,139.6M825.2,86.3L846.9,94.6M825.2,86.3L800.4,241.2M825.2,86.3L821.2,230.8M825.2,86.3L821.1,154.4M825.2,86.3L840.2,140.3M825.2,86.3L815.3,141.0M825.2,86.3L798.6,122.9M825.2,86.3L823.3,95.6M825.2,86.3L843.0,136.3M825.2,86.3L746.4,72.6M825.2,86.3L796.0,73.6M792.5,62.7L736.2,68.5M792.5,62.7L839.2,139.6M792.5,62.7L709.8,42.6M792.5,62.7L846.9,94.6M792.5,62.7L800.4,241.2M792.5,62.7L821.2,230.8M792.5,62.7L821.1,154.4M792.5,62.7L840.2,140.3M792.5,62.7L815.3,141.0M792.5,62.7L798.6,122.9M792.5,62.7L823.3,95.6M792.5,62.7L729.2,49.9M792.5,62.7L669.0,43.3M792.5,62.7L843.0,136.3M792.5,62.7L746.4,72.6M792.5,62.7L796.0,73.6M792.5,62.7L671.2,47.1M792.5,62.7L652.1,62.6M792.5,62.7L664.8,58.6M792.5,62.7L673.8,43.9M792.5,62.7L539.2,217.2M736.2,68.5L839.2,139.6M736.2,68.5L709.8,42.6M736.2,68.5L846.9,94.6M736.2,68.5L800.4,241.2M736.2,68.5L821.2,230.8M736.2,68.5L821.1,154.4M736.2,68.5L840.2,140.3M736.2,68.5L815.3,141.0M736.2,68.5L798.6,122.9M736.2,68.5L823.3,95.6M736.2,68.5L729.2,49.9M736.2,68.5L669.0,43.3M736.2,68.5L843.0,136.3M736.2,68.5L796.0,73.6M736.2,68.5L671.2,47.1M736.2,68.5L652.1,62.6M736.2,68.5L664.8,58.6M736.2,68.5L673.8,43.9M736.2,68.5L539.2,217.2M839.2,139.6L846.9,94.6M839.2,139.6L800.4,241.2M839.2,139.6L821.2,230.8M839.2,139.6L821.1,154.4M839.2,139.6L840.2,140.3M839.2,139.6L815.3,141.0M839.2,139.6L798.6,122.9M839.2,139.6L823.3,95.6M839.2,139.6L843.0,136.3M839.2,139.6L746.4,72.6M839.2,139.6L796.0,73.6M709.8,42.6L821.2,230.8M709.8,42.6L798.6,122.9M709.8,42.6L669.0,43.3M709.8,42.6L746.4,72.6M709.8,42.6L796.0,73.6M709.8,42.6L671.2,47.1M709.8,42.6L673.8,43.9M709.8,42.6L539.2,217.2M846.9,94.6L800.4,241.2M846.9,94.6L821.2,230.8M846.9,94.6L821.1,154.4M846.9,94.6L840.2,140.3M846.9,94.6L815.3,141.0M846.9,94.6L798.6,122.9M846.9,94.6L823.3,95.6M846.9,94.6L843.0,136.3M846.9,94.6L746.4,72.6M846.9,94.6L796.0,73.6M800.4,241.2L821.2,230.8M800.4,241.2L821.1,154.4M800.4,241.2L840.2,140.3M800.4,241.2L815.3,141.0M800.4,241.2L798.6,122.9M800.4,241.2L823.3,95.6M800.4,241.2L669.0,43.3M800.4,241.2L843.0,136.3M800.4,241.2L746.4,72.6M800.4,241.2L796.0,73.6M800.4,241.2L664.8,58.6M800.4,241.2L539.2,217.2M821.2,230.8L821.1,154.4M821.2,230.8L840.2,140.3M821.2,230.8L815.3,141.0M821.2,230.8L798.6,122.9M821.2,230.8L823.3,95.6M821.2,230.8L843.0,136.3M821.2,230.8L746.4,72.6M821.2,230.8L796.0,73.6M821.2,230.8L539.2,217.2M821.1,154.4L840.2,140.3M821.1,154.4L815.3,141.0M821.1,154.4L798.6,122.9M821.1,154.4L823.3,95.6M821.1,154.4L843.0,136.3M821.1,154.4L746.4,72.6M821.1,154.4L796.0,73.6M821.1,154.4L671.2,47.1M840.2,140.3L815.3,141.0M840.2,140.3L798.6,122.9M840.2,140.3L823.3,95.6M840.2,140.3L843.0,136.3M840.2,140.3L746.4,72.6M840.2,140.3L796.0,73.6M815.3,141.0L798.6,122.9M815.3,141.0L823.3,95.6M815.3,141.0L729.2,49.9M815.3,141.0L843.0,136.3M815.3,141.0L746.4,72.6M815.3,141.0L796.0,73.6M815.3,141.0L671.2,47.1M815.3,141.0L539.2,217.2M798.6,122.9L823.3,95.6M798.6,122.9L669.0,43.3M798.6,122.9L843.0,136.3M798.6,122.9L746.4,72.6M798.6,122.9L796.0,73.6M823.3,95.6L843.0,136.3M823.3,95.6L746.4,72.6M823.3,95.6L796.0,73.6M729.2,49.9L669.0,43.3M729.2,49.9L746.4,72.6M729.2,49.9L796.0,73.6M669.0,43.3L843.0,136.3M669.0,43.3L746.4,72.6M669.0,43.3L796.0,73.6M669.0,43.3L664.8,58.6M669.0,43.3L539.2,217.2M843.0,136.3L746.4,72.6M843.0,136.3L796.0,73.6M746.4,72.6L796.0,73.6M746.4,72.6L671.2,47.1M746.4,72.6L652.1,62.6M746.4,72.6L664.8,58.6M746.4,72.6L539.2,217.2M796.0,73.6L671.2,47.1M796.0,73.6L652.1,62.6M796.0,73.6L664.8,58.6M796.0,73.6L673.8,43.9M796.0,73.6L539.2,217.2M671.2,47.1L652.1,62.6M671.2,47.1L539.2,217.2M652.1,62.6L664.8,58.6M652.1,62.6L539.2,217.2M664.8,58.6L539.2,217.2M673.8,43.9L539.2,217.2"/>
<circle cx="669.0" cy="43.3" r="2.6" fill="#bdc9e1" stroke="#97a0b4" stroke-width="0.5"/>
<circle cx="668.0" cy="44.5" r="2.6" fill="#bdc9e1" stroke="#97a0b4" stroke-width="0.5"/>
<circle cx="673.8" cy="43.9" r="2.6" fill="#bdc9e1" stroke="#97a0b4" stroke-width="0.5"/>
<circle cx="674.5" cy="44.5" r="2.6" fill="#bdc9e1" stroke="#97a0b4" stroke-width="0.5"/>
<circle cx="671.2" cy="47.1" r="2.6" fill="#74a9cf" stroke="#5c87a5" stroke-width="0.5"/>
<circle cx="709.8" cy="42.6" r="2.6" fill="#74a9cf" stroke="#5c87a5" stroke-width="0.5"/>
<circle cx="710.5" cy="43.0" r="2.6" fill="#74a9cf" stroke="#5c87a5" stroke-width="0.5"/>
<circle cx="729.2" cy="49.9" r="2.6" fill="#bdc9e1" stroke="#97a0b4" stroke-width="0.5"/>
<circle cx="664.8" cy="58.6" r="2.6" fill="#bdc9e1" stroke="#97a0b4" stroke-width="0.5"/>
<circle cx="652.1" cy="62.6" r="2.6" fill="#f1eef6" stroke="#c0bec4" stroke-width="0.5"/>
<circle cx="736.2" cy="68.5" r="2.6" fill="#045a8d" stroke="#034870" stroke-width="0.5"/>
<circle cx="746.4" cy="72.6" r="2.6" fill="#bdc9e1" stroke="#97a0b4" stroke-width="0.5"/>
<circle cx="792.5" cy="62.7" r="2.6" fill="#045a8d" stroke="#034870" stroke-width="0.5"/>
<circle cx="796.0" cy="73.6" r="2.6" fill="#74a9cf" stroke="#5c87a5" stroke-width="0.5"/>
<circle cx="825.2" cy="86.3" r="2.6" fill="#74a9cf" stroke="#5c87a5" stroke-width="0.5"/>
<circle cx="823.3" cy="95.6" r="2.6" fill="#74a9cf" stroke="#5c87a5" stroke-width="0.5"/>
<circle cx="846.9" cy="94.6" r="2.6" fill="#74a9cf" stroke="#5c87a5" stroke-width="0.5"/>
<circle cx="798.6" cy="122.9" r="2.6" fill="#74a9cf" stroke="#5c87a5" stroke-width="0.5"/>
<circle cx="815.3" cy="141.0" r="2.6" fill="#74a9cf" stroke="#5c87a5" stroke-width="0.5"/>
<circle cx="843.0" cy="136.3" r="2.6" fill="#74a9cf" stroke="#5c87a5" stroke-width="0.5"/>
<circle cx="839.2" cy="139.6" r="2.6" fill="#045a8d" stroke="#034870" stroke-width="0.5"/>
<circle cx="840.2" cy="140.3" r="2.6" fill="#045a8d" stroke="#034870" stroke-width="0.5"/>
<circle cx="821.1" cy="154.4" r="2.6" fill="#74a9cf" stroke="#5c87a5" stroke-width="0.5"/>
<circle cx="820.1" cy="160.1" r="2.6" fill="#74a9cf" stroke="#5c87a5" stroke-width="0.5"/>
<circle cx="810.5" cy="212.6" r="2.6" fill="#2b8cbe" stroke="#227098" stroke-width="0.5"/>
<circle cx="821.2" cy="230.8" r="2.6" fill="#2b8cbe" stroke="#227098" stroke-width="0.5"/>
<circle cx="803.4" cy="234.9" r="2.6" fill="#74a9cf" stroke="#5c87a5" stroke-width="0.5"/>
<circle cx="816.0" cy="234.9" r="2.6" fill="#74a9cf" stroke="#5c87a5" stroke-width="0.5"/>
<circle cx="800.4" cy="241.2" r="2.6" fill="#74a9cf" stroke="#5c87a5" stroke-width="0.5"/>
<circle cx="539.2" cy="217.2" r="2.6" fill="#bdc9e1" stroke="#97a0b4" stroke-width="0.5"/>
<text class="lbl" x="663.0" y="40.6">237</text>
<text class="lbl" x="659.0" y="46.4">235</text>
<text class="lbl" x="675.2" y="41.9">89</text>
<text class="lbl" x="677.0" y="46.4">106</text>
<text class="lbl" x="673.8" y="51.5">46</text>
<text class="lbl" x="710.7" y="40.0">187</text>
<text class="lbl" x="713.2" y="45.1">80</text>
<text class="lbl" x="731.3" y="53.4">232</text>
<text class="lbl" x="667.2" y="61.2">70</text>
<text class="lbl" x="656.4" y="65.2">69</text>
<text class="lbl" x="740.4" y="69.9">178</text>
<text class="lbl" x="749.6" y="76.9">39</text>
<text class="lbl" x="794.6" y="65.0">177</text>
<text class="lbl" x="798.4" y="75.9">405</text>
<text class="lbl" x="828.0" y="88.6">173</text>
<text class="lbl" x="826.1" y="97.9">223</text>
<text class="lbl" x="849.7" y="96.9">189</text>
<text class="lbl" x="800.8" y="125.3">218</text>
<text class="lbl" x="817.6" y="143.3">217</text>
<text class="lbl" x="843.1" y="135.6">258</text>
<text class="lbl" x="846.0" y="141.3">18</text>
<text class="lbl" x="839.8" y="146.7">215</text>
<text class="lbl" x="821.6" y="152.4">214</text>
<text class="lbl" x="824.2" y="157.2">213</text>
<text class="lbl" x="822.6" y="162.4">116</text>
<text class="lbl" x="813.4" y="214.7">134</text>
<text class="lbl" x="823.9" y="232.6">211</text>
<text class="lbl" x="805.7" y="237.1">120</text>
<text class="lbl" x="819.4" y="237.4">137</text>
<text class="lbl" x="803.8" y="243.6">194</text>
<text class="lbl" x="540.2" y="211.7">187</text>
<text class="lbl" x="527.8" y="215.3">159</text>
<text class="lbl" x="543.6" y="215.0">165</text>
<text class="lbl" x="527.6" y="219.9">436</text>
<text class="lbl" x="543.9" y="220.6">129</text>
</g>
<rect x="769.85" y="319.15" width="151.50" height="26.80" fill="#fff" stroke="#333" stroke-width="1.3"/>
<text x="772.14" y="326.50" font-size="8.08" fill="#555" font-weight="bold" textLength="34.11" lengthAdjust="spacingAndGlyphs">DEGREE</text>
<text x="779.69" y="335.10" font-size="8" fill="#222" stroke="#222" stroke-width="0.15">0</text>
<text x="913.90" y="335.30" font-size="8" fill="#222" stroke="#222" stroke-width="0.15" text-anchor="end">27</text>
<rect x="781.30" y="336.80" width="25.50" height="6.80" fill="#f1eef6"/>
<rect x="806.80" y="336.80" width="25.50" height="6.80" fill="#bdc9e1"/>
<rect x="832.30" y="336.80" width="25.50" height="6.80" fill="#74a9cf"/>
<rect x="857.80" y="336.80" width="25.50" height="6.80" fill="#2b8cbe"/>
<rect x="883.30" y="336.80" width="25.50" height="6.80" fill="#045a8d"/>
<path d="M806.80,336.80V343.60M832.30,336.80V343.60M857.80,336.80V343.60M883.30,336.80V343.60" stroke="#333" stroke-width="0.8" fill="none"/>
<rect x="781.30" y="336.80" width="127.50" height="6.80" fill="none" stroke="#333" stroke-width="0.8"/>
<text x="0" y="0" font-size="21.3" fill="#000" transform="translate(478.90,342.70) scale(1.120,1)">d</text>
<text x="493.77" y="342.70" font-size="21.3" fill="#000">)</text>
</g>
<g clip-path="url(#clipe)">
<rect x="471.2" y="354.3" width="458.4" height="328.2" fill="#d4d9dc"/>
<path transform="translate(459,328)" d="M92.2,38.7 L96.4,36.1 L101.7,32.4 L107.0,29.7 L112.3,29.2 L117.6,30.2 L122.9,31.3 L126.1,33.4 L129.3,36.6 L135.7,37.7 L145.2,36.6 L150.0,37.5 L160.6,36.6 L171.2,36.1 L175.5,34.5 L178.7,36.1 L187.2,38.2 L197.8,39.8 L208.4,41.9 L213.7,43.0 L224.3,44.6 L234.9,43.5 L245.3,40.9 L250.6,40.3 L255.9,40.9 L261.2,43.5 L266.5,44.6 L269.7,46.2 L274.0,43.5 L280.3,43.0 L287.8,45.1 L293.1,46.7 L299.4,48.3 L305.8,47.8 L312.2,45.6 L318.6,41.9 L322.8,37.7 L324.9,33.4 L326.5,29.2 L327.0,20.0 L480.0,20.0 L480.0,116.0 L471.0,117.5 L464.7,119.5 L461.8,120.3 L454.3,124.1 L451.2,127.9 L448.2,130.9 L442.2,132.4 L433.9,134.7 L425.6,136.9 L418.8,139.2 L411.3,141.4 L404.5,144.5 L400.5,148.5 L404.0,152.0 L401.0,155.5 L397.4,160.4 L389.9,169.3 L383.9,176.8 L377.9,184.3 L373.4,191.8 L370.4,200.8 L368.9,209.8 L368.9,217.2 L370.4,223.2 L374.6,224.9 L378.0,228.5 L382.9,232.0 L378.3,234.5 L373.8,238.2 L365.3,243.6 L359.9,249.0 L356.3,254.5 L352.6,261.7 L349.0,269.0 L347.2,274.4 L342.0,277.5 L336.3,279.9 L330.0,280.5 L322.0,285.7 L312.4,295.3 L307.8,302.8 L301.0,310.2 L295.2,306.8 L287.6,306.8 L280.0,310.6 L264.7,309.6 L249.4,310.6 L236.0,309.6 L224.5,311.5 L216.9,317.3 L207.3,319.2 L199.7,323.0 L194.0,331.6 L190.1,335.4 L184.4,336.4 L174.8,331.6 L167.2,322.0 L162.8,317.0 L157.6,310.6 L150.0,299.1 L147.8,298.0 L135.3,294.0 L120.9,293.1 L110.1,295.8 L99.3,299.4 L84.9,297.6 L72.3,297.6 L68.7,295.8 L70.5,285.0 L72.3,272.5 L73.2,259.9 L75.0,247.3 L72.3,244.0 L66.9,243.7 L62.4,241.0 L60.0,238.0 L58.8,235.0 L62.8,233.5 L56.6,234.0 L52.7,233.0 L53.4,227.5 L55.0,221.3 L55.8,213.4 L58.1,208.8 L62.8,204.1 L65.9,196.3 L69.1,186.9 L72.2,177.5 L73.8,171.3 L76.1,163.4 L77.7,155.6 L79.2,149.4 L80.0,140.0 L79.2,130.6 L76.9,121.3 L75.3,113.4 L73.8,105.6 L72.5,100.3 L73.0,93.9 L74.1,89.7 L70.9,85.4 L69.9,81.2 L66.7,79.1 L66.7,74.8 L64.6,70.6 L61.4,66.3 L59.2,63.2 L60.8,57.8 L63.5,53.6 L68.8,50.4 L73.0,47.8 L76.2,48.3 L81.5,47.2 L87.9,45.1 L93.2,45.6 L95.3,43.5 L92.2,41.9Z M417.2,226.3 L419.5,222.4 L423.5,219.3 L428.9,218.9 L430.1,221.6 L425.8,225.5 L422.7,228.6 L418.8,227.9Z M422.7,234.2 L424.5,233.6 L426.0,234.6 L429.3,235.0 L428.5,236.4 L424.0,235.8Z M455.9,199.7 L458.5,197.8 L461.0,195.8 L465.0,193.0 L468.0,191.1 L469.6,189.5 L480.0,186.0 L480.0,210.0 L469.6,207.5 L466.0,204.0 L462.5,201.3 L461.0,203.6 L457.9,202.0Z M170.0,360.0 L171.6,352.6 L173.4,346.1 L179.2,344.4 L187.4,342.0 L192.6,341.5 L193.8,346.7 L195.5,352.6 L196.0,360.0Z M330.0,360.0 L338.0,350.0 L360.0,344.0 L400.0,330.0 L420.6,317.5 L440.0,315.5 L455.0,314.0 L468.9,312.7 L480.0,311.0 L480.0,360.0Z" fill="#f9f9f8"/>
<g transform="translate(0,328)">
<path class="edge" d="M674.5,44.5L729.2,49.9M820.1,160.1L803.4,234.9M820.1,160.1L810.5,212.6M820.1,160.1L816.0,234.9M820.1,160.1L825.2,86.3M820.1,160.1L792.5,62.7M820.1,160.1L736.2,68.5M820.1,160.1L839.2,139.6M820.1,160.1L846.9,94.6M820.1,160.1L800.4,241.2M820.1,160.1L821.2,230.8M820.1,160.1L821.1,154.4M820.1,160.1L840.2,140.3M820.1,160.1L815.3,141.0M820.1,160.1L798.6,122.9M820.1,160.1L823.3,95.6M820.1,160.1L843.0,136.3M820.1,160.1L746.4,72.6M820.1,160.1L796.0,73.6M803.4,234.9L810.5,212.6M803.4,234.9L816.0,234.9M803.4,234.9L825.2,86.3M803.4,234.9L792.5,62.7M803.4,234.9L736.2,68.5M803.4,234.9L839.2,139.6M803.4,234.9L709.8,42.6M803.4,234.9L846.9,94.6M803.4,234.9L800.4,241.2M803.4,234.9L821.2,230.8M803.4,234.9L821.1,154.4M803.4,234.9L840.2,140.3M803.4,234.9L815.3,141.0M803.4,234.9L798.6,122.9M803.4,234.9L823.3,95.6M803.4,234.9L843.0,136.3M803.4,234.9L746.4,72.6M803.4,234.9L796.0,73.6M803.4,234.9L652.1,62.6M803.4,234.9L539.2,217.2M810.5,212.6L816.0,234.9M810.5,212.6L825.2,86.3M810.5,212.6L792.5,62.7M810.5,212.6L736.2,68.5M810.5,212.6L839.2,139.6M810.5,212.6L846.9,94.6M810.5,212.6L800.4,241.2M810.5,212.6L821.2,230.8M810.5,212.6L821.1,154.4M810.5,212.6L840.2,140.3M810.5,212.6L815.3,141.0M810.5,212.6L798.6,122.9M810.5,212.6L823.3,95.6M810.5,212.6L669.0,43.3M810.5,212.6L843.0,136.3M810.5,212.6L746.4,72.6M810.5,212.6L796.0,73.6M810.5,212.6L671.2,47.1M810.5,212.6L673.8,43.9M810.5,212.6L539.2,217.2M816.0,234.9L825.2,86.3M816.0,234.9L792.5,62.7M816.0,234.9L736.2,68.5M816.0,234.9L839.2,139.6M816.0,234.9L846.9,94.6M816.0,234.9L800.4,241.2M816.0,234.9L821.2,230.8M816.0,234.9L821.1,154.4M816.0,234.9L840.2,140.3M816.0,234.9L815.3,141.0M816.0,234.9L798.6,122.9M816.0,234.9L823.3,95.6M816.0,234.9L843.0,136.3M816.0,234.9L746.4,72.6M816.0,234.9L796.0,73.6M825.2,86.3L792.5,62.7M825.2,86.3L736.2,68.5M825.2,86.3L839.2,139.6M825.2,86.3L846.9,94.6M825.2,86.3L800.4,241.2M825.2,86.3L821.2,230.8M825.2,86.3L821.1,154.4M825.2,86.3L840.2,140.3M825.2,86.3L815.3,141.0M825.2,86.3L798.6,122.9M825.2,86.3L823.3,95.6M825.2,86.3L843.0,136.3M825.2,86.3L746.4,72.6M825.2,86.3L796.0,73.6M792.5,62.7L736.2,68.5M792.5,62.7L839.2,139.6M792.5,62.7L709.8,42.6M792.5,62.7L846.9,94.6M792.5,62.7L800.4,241.2M792.5,62.7L821.2,230.8M792.5,62.7L821.1,154.4M792.5,62.7L840.2,140.3M792.5,62.7L815.3,141.0M792.5,62.7L798.6,122.9M792.5,62.7L823.3,95.6M792.5,62.7L729.2,49.9M792.5,62.7L669.0,43.3M792.5,62.7L843.0,136.3M792.5,62.7L746.4,72.6M792.5,62.7L796.0,73.6M792.5,62.7L671.2,47.1M792.5,62.7L652.1,62.6M792.5,62.7L664.8,58.6M792.5,62.7L673.8,43.9M792.5,62.7L539.2,217.2M736.2,68.5L839.2,139.6M736.2,68.5L709.8,42.6M736.2,68.5L846.9,94.6M736.2,68.5L800.4,241.2M736.2,68.5L821.2,230.8M736.2,68.5L821.1,154.4M736.2,68.5L840.2,140.3M736.2,68.5L815.3,141.0M736.2,68.5L798.6,122.9M736.2,68.5L823.3,95.6M736.2,68.5L729.2,49.9M736.2,68.5L669.0,43.3M736.2,68.5L843.0,136.3M736.2,68.5L796.0,73.6M736.2,68.5L671.2,47.1M736.2,68.5L652.1,62.6M736.2,68.5L664.8,58.6M736.2,68.5L673.8,43.9M736.2,68.5L539.2,217.2M839.2,139.6L846.9,94.6M839.2,139.6L800.4,241.2M839.2,139.6L821.2,230.8M839.2,139.6L821.1,154.4M839.2,139.6L840.2,140.3M839.2,139.6L815.3,141.0M839.2,139.6L798.6,122.9M839.2,139.6L823.3,95.6M839.2,139.6L843.0,136.3M839.2,139.6L746.4,72.6M839.2,139.6L796.0,73.6M709.8,42.6L821.2,230.8M709.8,42.6L798.6,122.9M709.8,42.6L669.0,43.3M709.8,42.6L746.4,72.6M709.8,42.6L796.0,73.6M709.8,42.6L671.2,47.1M709.8,42.6L673.8,43.9M709.8,42.6L539.2,217.2M846.9,94.6L800.4,241.2M846.9,94.6L821.2,230.8M846.9,94.6L821.1,154.4M846.9,94.6L840.2,140.3M846.9,94.6L815.3,141.0M846.9,94.6L798.6,122.9M846.9,94.6L823.3,95.6M846.9,94.6L843.0,136.3M846.9,94.6L746.4,72.6M846.9,94.6L796.0,73.6M800.4,241.2L821.2,230.8M800.4,241.2L821.1,154.4M800.4,241.2L840.2,140.3M800.4,241.2L815.3,141.0M800.4,241.2L798.6,122.9M800.4,241.2L823.3,95.6M800.4,241.2L669.0,43.3M800.4,241.2L843.0,136.3M800.4,241.2L746.4,72.6M800.4,241.2L796.0,73.6M800.4,241.2L664.8,58.6M800.4,241.2L539.2,217.2M821.2,230.8L821.1,154.4M821.2,230.8L840.2,140.3M821.2,230.8L815.3,141.0M821.2,230.8L798.6,122.9M821.2,230.8L823.3,95.6M821.2,230.8L843.0,136.3M821.2,230.8L746.4,72.6M821.2,230.8L796.0,73.6M821.2,230.8L539.2,217.2M821.1,154.4L840.2,140.3M821.1,154.4L815.3,141.0M821.1,154.4L798.6,122.9M821.1,154.4L823.3,95.6M821.1,154.4L843.0,136.3M821.1,154.4L746.4,72.6M821.1,154.4L796.0,73.6M821.1,154.4L671.2,47.1M840.2,140.3L815.3,141.0M840.2,140.3L798.6,122.9M840.2,140.3L823.3,95.6M840.2,140.3L843.0,136.3M840.2,140.3L746.4,72.6M840.2,140.3L796.0,73.6M815.3,141.0L798.6,122.9M815.3,141.0L823.3,95.6M815.3,141.0L729.2,49.9M815.3,141.0L843.0,136.3M815.3,141.0L746.4,72.6M815.3,141.0L796.0,73.6M815.3,141.0L671.2,47.1M815.3,141.0L539.2,217.2M798.6,122.9L823.3,95.6M798.6,122.9L669.0,43.3M798.6,122.9L843.0,136.3M798.6,122.9L746.4,72.6M798.6,122.9L796.0,73.6M823.3,95.6L843.0,136.3M823.3,95.6L746.4,72.6M823.3,95.6L796.0,73.6M729.2,49.9L669.0,43.3M729.2,49.9L746.4,72.6M729.2,49.9L796.0,73.6M669.0,43.3L843.0,136.3M669.0,43.3L746.4,72.6M669.0,43.3L796.0,73.6M669.0,43.3L664.8,58.6M669.0,43.3L539.2,217.2M843.0,136.3L746.4,72.6M843.0,136.3L796.0,73.6M746.4,72.6L796.0,73.6M746.4,72.6L671.2,47.1M746.4,72.6L652.1,62.6M746.4,72.6L664.8,58.6M746.4,72.6L539.2,217.2M796.0,73.6L671.2,47.1M796.0,73.6L652.1,62.6M796.0,73.6L664.8,58.6M796.0,73.6L673.8,43.9M796.0,73.6L539.2,217.2M671.2,47.1L652.1,62.6M671.2,47.1L539.2,217.2M652.1,62.6L664.8,58.6M652.1,62.6L539.2,217.2M664.8,58.6L539.2,217.2M673.8,43.9L539.2,217.2"/>
<circle cx="669.0" cy="43.3" r="2.6" fill="#c2e699" stroke="#9bb87a" stroke-width="0.5"/>
<circle cx="668.0" cy="44.5" r="2.6" fill="#78c679" stroke="#609e60" stroke-width="0.5"/>
<circle cx="673.8" cy="43.9" r="2.6" fill="#78c679" stroke="#609e60" stroke-width="0.5"/>
<circle cx="674.5" cy="44.5" r="2.6" fill="#78c679" stroke="#609e60" stroke-width="0.5"/>
<circle cx="671.2" cy="47.1" r="2.6" fill="#78c679" stroke="#609e60" stroke-width="0.5"/>
<circle cx="709.8" cy="42.6" r="2.6" fill="#78c679" stroke="#609e60" stroke-width="0.5"/>
<circle cx="710.5" cy="43.0" r="2.6" fill="#78c679" stroke="#609e60" stroke-width="0.5"/>
<circle cx="729.2" cy="49.9" r="2.6" fill="#c2e699" stroke="#9bb87a" stroke-width="0.5"/>
<circle cx="664.8" cy="58.6" r="2.6" fill="#78c679" stroke="#609e60" stroke-width="0.5"/>
<circle cx="652.1" cy="62.6" r="2.6" fill="#ffffcc" stroke="#cccca3" stroke-width="0.5"/>
<circle cx="736.2" cy="68.5" r="2.6" fill="#78c679" stroke="#609e60" stroke-width="0.5"/>
<circle cx="746.4" cy="72.6" r="2.6" fill="#78c679" stroke="#609e60" stroke-width="0.5"/>
<circle cx="792.5" cy="62.7" r="2.6" fill="#78c679" stroke="#609e60" stroke-width="0.5"/>
<circle cx="796.0" cy="73.6" r="2.6" fill="#006837" stroke="#00532c" stroke-width="0.5"/>
<circle cx="825.2" cy="86.3" r="2.6" fill="#006837" stroke="#00532c" stroke-width="0.5"/>
<circle cx="823.3" cy="95.6" r="2.6" fill="#006837" stroke="#00532c" stroke-width="0.5"/>
<circle cx="846.9" cy="94.6" r="2.6" fill="#006837" stroke="#00532c" stroke-width="0.5"/>
<circle cx="798.6" cy="122.9" r="2.6" fill="#006837" stroke="#00532c" stroke-width="0.5"/>
<circle cx="815.3" cy="141.0" r="2.6" fill="#78c679" stroke="#609e60" stroke-width="0.5"/>
<circle cx="843.0" cy="136.3" r="2.6" fill="#006837" stroke="#00532c" stroke-width="0.5"/>
<circle cx="839.2" cy="139.6" r="2.6" fill="#31a354" stroke="#278243" stroke-width="0.5"/>
<circle cx="840.2" cy="140.3" r="2.6" fill="#31a354" stroke="#278243" stroke-width="0.5"/>
<circle cx="821.1" cy="154.4" r="2.6" fill="#006837" stroke="#00532c" stroke-width="0.5"/>
<circle cx="820.1" cy="160.1" r="2.6" fill="#78c679" stroke="#609e60" stroke-width="0.5"/>
<circle cx="810.5" cy="212.6" r="2.6" fill="#78c679" stroke="#609e60" stroke-width="0.5"/>
<circle cx="821.2" cy="230.8" r="2.6" fill="#78c679" stroke="#609e60" stroke-width="0.5"/>
<circle cx="803.4" cy="234.9" r="2.6" fill="#006837" stroke="#00532c" stroke-width="0.5"/>
<circle cx="816.0" cy="234.9" r="2.6" fill="#006837" stroke="#00532c" stroke-width="0.5"/>
<circle cx="800.4" cy="241.2" r="2.6" fill="#006837" stroke="#00532c" stroke-width="0.5"/>
<circle cx="539.2" cy="217.2" r="2.6" fill="#c2e699" stroke="#9bb87a" stroke-width="0.5"/>
<text class="lbl" x="663.0" y="40.6">237</text>
<text class="lbl" x="659.0" y="46.4">235</text>
<text class="lbl" x="675.2" y="41.9">89</text>
<text class="lbl" x="677.0" y="46.4">106</text>
<text class="lbl" x="673.8" y="51.5">46</text>
<text class="lbl" x="710.7" y="40.0">187</text>
<text class="lbl" x="713.2" y="45.1">80</text>
<text class="lbl" x="731.3" y="53.4">232</text>
<text class="lbl" x="667.2" y="61.2">70</text>
<text class="lbl" x="656.4" y="65.2">69</text>
<text class="lbl" x="740.4" y="69.9">178</text>
<text class="lbl" x="749.6" y="76.9">39</text>
<text class="lbl" x="794.6" y="65.0">177</text>
<text class="lbl" x="798.4" y="75.9">405</text>
<text class="lbl" x="828.0" y="88.6">173</text>
<text class="lbl" x="826.1" y="97.9">223</text>
<text class="lbl" x="849.7" y="96.9">189</text>
<text class="lbl" x="800.8" y="125.3">218</text>
<text class="lbl" x="817.6" y="143.3">217</text>
<text class="lbl" x="843.1" y="135.6">258</text>
<text class="lbl" x="846.0" y="141.3">18</text>
<text class="lbl" x="839.8" y="146.7">215</text>
<text class="lbl" x="821.6" y="152.4">214</text>
<text class="lbl" x="824.2" y="157.2">213</text>
<text class="lbl" x="822.6" y="162.4">116</text>
<text class="lbl" x="813.4" y="214.7">134</text>
<text class="lbl" x="823.9" y="232.6">211</text>
<text class="lbl" x="805.7" y="237.1">120</text>
<text class="lbl" x="819.4" y="237.4">137</text>
<text class="lbl" x="803.8" y="243.6">194</text>
<text class="lbl" x="540.2" y="211.7">187</text>
<text class="lbl" x="527.8" y="215.3">159</text>
<text class="lbl" x="543.6" y="215.0">165</text>
<text class="lbl" x="527.6" y="219.9">436</text>
<text class="lbl" x="543.9" y="220.6">129</text>
</g>
<rect x="769.85" y="647.65" width="151.50" height="26.70" fill="#fff" stroke="#333" stroke-width="1.3"/>
<text x="772.76" y="654.90" font-size="8.00" fill="#555" font-weight="bold" textLength="79.08" lengthAdjust="spacingAndGlyphs">WEIGHTED DEGREE</text>
<text x="779.69" y="662.70" font-size="8" fill="#222" stroke="#222" stroke-width="0.15">0</text>
<text x="914.80" y="662.70" font-size="8" fill="#222" stroke="#222" stroke-width="0.15" text-anchor="end">14</text>
<rect x="782.60" y="665.10" width="25.50" height="6.50" fill="#ffffcc"/>
<rect x="808.10" y="665.10" width="25.50" height="6.50" fill="#c2e699"/>
<rect x="833.60" y="665.10" width="25.50" height="6.50" fill="#78c679"/>
<rect x="859.10" y="665.10" width="25.50" height="6.50" fill="#31a354"/>
<rect x="884.60" y="665.10" width="25.50" height="6.50" fill="#006837"/>
<path d="M808.10,665.10V671.60M833.60,665.10V671.60M859.10,665.10V671.60M884.60,665.10V671.60" stroke="#333" stroke-width="0.8" fill="none"/>
<rect x="782.60" y="665.10" width="127.50" height="6.50" fill="none" stroke="#333" stroke-width="0.8"/>
<text x="0" y="0" font-size="21.3" fill="#000" transform="translate(477.75,670.30) scale(1.170,1)">e</text>
<text x="492.67" y="670.30" font-size="21.3" fill="#000">)</text>
</g>
<g clip-path="url(#clipf)">
<rect x="471.2" y="682.5" width="458.4" height="328.5" fill="#d4d9dc"/>
<path transform="matrix(0.995,0,0,1,458.3,657.6)" d="M92.2,38.7 L96.4,36.1 L101.7,32.4 L107.0,29.7 L112.3,29.2 L117.6,30.2 L122.9,31.3 L126.1,33.4 L129.3,36.6 L135.7,37.7 L145.2,36.6 L150.0,37.5 L160.6,36.6 L171.2,36.1 L175.5,34.5 L178.7,36.1 L187.2,38.2 L197.8,39.8 L208.4,41.9 L213.7,43.0 L224.3,44.6 L234.9,43.5 L245.3,40.9 L250.6,40.3 L255.9,40.9 L261.2,43.5 L266.5,44.6 L269.7,46.2 L274.0,43.5 L280.3,43.0 L287.8,45.1 L293.1,46.7 L299.4,48.3 L305.8,47.8 L312.2,45.6 L318.6,41.9 L322.8,37.7 L324.9,33.4 L326.5,29.2 L327.0,20.0 L480.0,20.0 L480.0,116.0 L471.0,117.5 L464.7,119.5 L461.8,120.3 L454.3,124.1 L451.2,127.9 L448.2,130.9 L442.2,132.4 L433.9,134.7 L425.6,136.9 L418.8,139.2 L411.3,141.4 L404.5,144.5 L400.5,148.5 L404.0,152.0 L401.0,155.5 L397.4,160.4 L389.9,169.3 L383.9,176.8 L377.9,184.3 L373.4,191.8 L370.4,200.8 L368.9,209.8 L368.9,217.2 L370.4,223.2 L374.6,224.9 L378.0,228.5 L382.9,232.0 L378.3,234.5 L373.8,238.2 L365.3,243.6 L359.9,249.0 L356.3,254.5 L352.6,261.7 L349.0,269.0 L347.2,274.4 L342.0,277.5 L336.3,279.9 L330.0,280.5 L322.0,285.7 L312.4,295.3 L307.8,302.8 L301.0,310.2 L295.2,306.8 L287.6,306.8 L280.0,310.6 L264.7,309.6 L249.4,310.6 L236.0,309.6 L224.5,311.5 L216.9,317.3 L207.3,319.2 L199.7,323.0 L194.0,331.6 L190.1,335.4 L184.4,336.4 L174.8,331.6 L167.2,322.0 L162.8,317.0 L157.6,310.6 L150.0,299.1 L147.8,298.0 L135.3,294.0 L120.9,293.1 L110.1,295.8 L99.3,299.4 L84.9,297.6 L72.3,297.6 L68.7,295.8 L70.5,285.0 L72.3,272.5 L73.2,259.9 L75.0,247.3 L72.3,244.0 L66.9,243.7 L62.4,241.0 L60.0,238.0 L58.8,235.0 L62.8,233.5 L56.6,234.0 L52.7,233.0 L53.4,227.5 L55.0,221.3 L55.8,213.4 L58.1,208.8 L62.8,204.1 L65.9,196.3 L69.1,186.9 L72.2,177.5 L73.8,171.3 L76.1,163.4 L77.7,155.6 L79.2,149.4 L80.0,140.0 L79.2,130.6 L76.9,121.3 L75.3,113.4 L73.8,105.6 L72.5,100.3 L73.0,93.9 L74.1,89.7 L70.9,85.4 L69.9,81.2 L66.7,79.1 L66.7,74.8 L64.6,70.6 L61.4,66.3 L59.2,63.2 L60.8,57.8 L63.5,53.6 L68.8,50.4 L73.0,47.8 L76.2,48.3 L81.5,47.2 L87.9,45.1 L93.2,45.6 L95.3,43.5 L92.2,41.9Z M417.2,226.3 L419.5,222.4 L423.5,219.3 L428.9,218.9 L430.1,221.6 L425.8,225.5 L422.7,228.6 L418.8,227.9Z M422.7,234.2 L424.5,233.6 L426.0,234.6 L429.3,235.0 L428.5,236.4 L424.0,235.8Z M455.9,199.7 L458.5,197.8 L461.0,195.8 L465.0,193.0 L468.0,191.1 L469.6,189.5 L480.0,186.0 L480.0,210.0 L469.6,207.5 L466.0,204.0 L462.5,201.3 L461.0,203.6 L457.9,202.0Z M170.0,360.0 L171.6,352.6 L173.4,346.1 L179.2,344.4 L187.4,342.0 L192.6,341.5 L193.8,346.7 L195.5,352.6 L196.0,360.0Z M330.0,360.0 L338.0,350.0 L360.0,344.0 L400.0,330.0 L420.6,317.5 L440.0,315.5 L455.0,314.0 L468.9,312.7 L480.0,311.0 L480.0,360.0Z" fill="#f9f9f8"/>
<g transform="matrix(0.995,0,0,1,0.8,658.2)">
<path class="edge" d="M674.5,44.5L729.2,49.9M820.1,160.1L803.4,234.9M820.1,160.1L810.5,212.6M820.1,160.1L816.0,234.9M820.1,160.1L825.2,86.3M820.1,160.1L792.5,62.7M820.1,160.1L736.2,68.5M820.1,160.1L839.2,139.6M820.1,160.1L846.9,94.6M820.1,160.1L800.4,241.2M820.1,160.1L821.2,230.8M820.1,160.1L821.1,154.4M820.1,160.1L840.2,140.3M820.1,160.1L815.3,141.0M820.1,160.1L798.6,122.9M820.1,160.1L823.3,95.6M820.1,160.1L843.0,136.3M820.1,160.1L746.4,72.6M820.1,160.1L796.0,73.6M803.4,234.9L810.5,212.6M803.4,234.9L816.0,234.9M803.4,234.9L825.2,86.3M803.4,234.9L792.5,62.7M803.4,234.9L736.2,68.5M803.4,234.9L839.2,139.6M803.4,234.9L709.8,42.6M803.4,234.9L846.9,94.6M803.4,234.9L800.4,241.2M803.4,234.9L821.2,230.8M803.4,234.9L821.1,154.4M803.4,234.9L840.2,140.3M803.4,234.9L815.3,141.0M803.4,234.9L798.6,122.9M803.4,234.9L823.3,95.6M803.4,234.9L843.0,136.3M803.4,234.9L746.4,72.6M803.4,234.9L796.0,73.6M803.4,234.9L652.1,62.6M803.4,234.9L539.2,217.2M810.5,212.6L816.0,234.9M810.5,212.6L825.2,86.3M810.5,212.6L792.5,62.7M810.5,212.6L736.2,68.5M810.5,212.6L839.2,139.6M810.5,212.6L846.9,94.6M810.5,212.6L800.4,241.2M810.5,212.6L821.2,230.8M810.5,212.6L821.1,154.4M810.5,212.6L840.2,140.3M810.5,212.6L815.3,141.0M810.5,212.6L798.6,122.9M810.5,212.6L823.3,95.6M810.5,212.6L669.0,43.3M810.5,212.6L843.0,136.3M810.5,212.6L746.4,72.6M810.5,212.6L796.0,73.6M810.5,212.6L671.2,47.1M810.5,212.6L673.8,43.9M810.5,212.6L539.2,217.2M816.0,234.9L825.2,86.3M816.0,234.9L792.5,62.7M816.0,234.9L736.2,68.5M816.0,234.9L839.2,139.6M816.0,234.9L846.9,94.6M816.0,234.9L800.4,241.2M816.0,234.9L821.2,230.8M816.0,234.9L821.1,154.4M816.0,234.9L840.2,140.3M816.0,234.9L815.3,141.0M816.0,234.9L798.6,122.9M816.0,234.9L823.3,95.6M816.0,234.9L843.0,136.3M816.0,234.9L746.4,72.6M816.0,234.9L796.0,73.6M825.2,86.3L792.5,62.7M825.2,86.3L736.2,68.5M825.2,86.3L839.2,139.6M825.2,86.3L846.9,94.6M825.2,86.3L800.4,241.2M825.2,86.3L821.2,230.8M825.2,86.3L821.1,154.4M825.2,86.3L840.2,140.3M825.2,86.3L815.3,141.0M825.2,86.3L798.6,122.9M825.2,86.3L823.3,95.6M825.2,86.3L843.0,136.3M825.2,86.3L746.4,72.6M825.2,86.3L796.0,73.6M792.5,62.7L736.2,68.5M792.5,62.7L839.2,139.6M792.5,62.7L709.8,42.6M792.5,62.7L846.9,94.6M792.5,62.7L800.4,241.2M792.5,62.7L821.2,230.8M792.5,62.7L821.1,154.4M792.5,62.7L840.2,140.3M792.5,62.7L815.3,141.0M792.5,62.7L798.6,122.9M792.5,62.7L823.3,95.6M792.5,62.7L729.2,49.9M792.5,62.7L669.0,43.3M792.5,62.7L843.0,136.3M792.5,62.7L746.4,72.6M792.5,62.7L796.0,73.6M792.5,62.7L671.2,47.1M792.5,62.7L652.1,62.6M792.5,62.7L664.8,58.6M792.5,62.7L673.8,43.9M792.5,62.7L539.2,217.2M736.2,68.5L839.2,139.6M736.2,68.5L709.8,42.6M736.2,68.5L846.9,94.6M736.2,68.5L800.4,241.2M736.2,68.5L821.2,230.8M736.2,68.5L821.1,154.4M736.2,68.5L840.2,140.3M736.2,68.5L815.3,141.0M736.2,68.5L798.6,122.9M736.2,68.5L823.3,95.6M736.2,68.5L729.2,49.9M736.2,68.5L669.0,43.3M736.2,68.5L843.0,136.3M736.2,68.5L796.0,73.6M736.2,68.5L671.2,47.1M736.2,68.5L652.1,62.6M736.2,68.5L664.8,58.6M736.2,68.5L673.8,43.9M736.2,68.5L539.2,217.2M839.2,139.6L846.9,94.6M839.2,139.6L800.4,241.2M839.2,139.6L821.2,230.8M839.2,139.6L821.1,154.4M839.2,139.6L840.2,140.3M839.2,139.6L815.3,141.0M839.2,139.6L798.6,122.9M839.2,139.6L823.3,95.6M839.2,139.6L843.0,136.3M839.2,139.6L746.4,72.6M839.2,139.6L796.0,73.6M709.8,42.6L821.2,230.8M709.8,42.6L798.6,122.9M709.8,42.6L669.0,43.3M709.8,42.6L746.4,72.6M709.8,42.6L796.0,73.6M709.8,42.6L671.2,47.1M709.8,42.6L673.8,43.9M709.8,42.6L539.2,217.2M846.9,94.6L800.4,241.2M846.9,94.6L821.2,230.8M846.9,94.6L821.1,154.4M846.9,94.6L840.2,140.3M846.9,94.6L815.3,141.0M846.9,94.6L798.6,122.9M846.9,94.6L823.3,95.6M846.9,94.6L843.0,136.3M846.9,94.6L746.4,72.6M846.9,94.6L796.0,73.6M800.4,241.2L821.2,230.8M800.4,241.2L821.1,154.4M800.4,241.2L840.2,140.3M800.4,241.2L815.3,141.0M800.4,241.2L798.6,122.9M800.4,241.2L823.3,95.6M800.4,241.2L669.0,43.3M800.4,241.2L843.0,136.3M800.4,241.2L746.4,72.6M800.4,241.2L796.0,73.6M800.4,241.2L664.8,58.6M800.4,241.2L539.2,217.2M821.2,230.8L821.1,154.4M821.2,230.8L840.2,140.3M821.2,230.8L815.3,141.0M821.2,230.8L798.6,122.9M821.2,230.8L823.3,95.6M821.2,230.8L843.0,136.3M821.2,230.8L746.4,72.6M821.2,230.8L796.0,73.6M821.2,230.8L539.2,217.2M821.1,154.4L840.2,140.3M821.1,154.4L815.3,141.0M821.1,154.4L798.6,122.9M821.1,154.4L823.3,95.6M821.1,154.4L843.0,136.3M821.1,154.4L746.4,72.6M821.1,154.4L796.0,73.6M821.1,154.4L671.2,47.1M840.2,140.3L815.3,141.0M840.2,140.3L798.6,122.9M840.2,140.3L823.3,95.6M840.2,140.3L843.0,136.3M840.2,140.3L746.4,72.6M840.2,140.3L796.0,73.6M815.3,141.0L798.6,122.9M815.3,141.0L823.3,95.6M815.3,141.0L729.2,49.9M815.3,141.0L843.0,136.3M815.3,141.0L746.4,72.6M815.3,141.0L796.0,73.6M815.3,141.0L671.2,47.1M815.3,141.0L539.2,217.2M798.6,122.9L823.3,95.6M798.6,122.9L669.0,43.3M798.6,122.9L843.0,136.3M798.6,122.9L746.4,72.6M798.6,122.9L796.0,73.6M823.3,95.6L843.0,136.3M823.3,95.6L746.4,72.6M823.3,95.6L796.0,73.6M729.2,49.9L669.0,43.3M729.2,49.9L746.4,72.6M729.2,49.9L796.0,73.6M669.0,43.3L843.0,136.3M669.0,43.3L746.4,72.6M669.0,43.3L796.0,73.6M669.0,43.3L664.8,58.6M669.0,43.3L539.2,217.2M843.0,136.3L746.4,72.6M843.0,136.3L796.0,73.6M746.4,72.6L796.0,73.6M746.4,72.6L671.2,47.1M746.4,72.6L652.1,62.6M746.4,72.6L664.8,58.6M746.4,72.6L539.2,217.2M796.0,73.6L671.2,47.1M796.0,73.6L652.1,62.6M796.0,73.6L664.8,58.6M796.0,73.6L673.8,43.9M796.0,73.6L539.2,217.2M671.2,47.1L652.1,62.6M671.2,47.1L539.2,217.2M652.1,62.6L664.8,58.6M652.1,62.6L539.2,217.2M664.8,58.6L539.2,217.2M673.8,43.9L539.2,217.2"/>
<circle cx="669.0" cy="43.3" r="2.6" fill="#fee5d9" stroke="#cbb7ad" stroke-width="0.5"/>
<circle cx="668.0" cy="44.5" r="2.6" fill="#fee5d9" stroke="#cbb7ad" stroke-width="0.5"/>
<circle cx="673.8" cy="43.9" r="2.6" fill="#fee5d9" stroke="#cbb7ad" stroke-width="0.5"/>
<circle cx="674.5" cy="44.5" r="2.6" fill="#fee5d9" stroke="#cbb7ad" stroke-width="0.5"/>
<circle cx="671.2" cy="47.1" r="2.6" fill="#fb6a4a" stroke="#c8543b" stroke-width="0.5"/>
<circle cx="709.8" cy="42.6" r="2.6" fill="#fee5d9" stroke="#cbb7ad" stroke-width="0.5"/>
<circle cx="710.5" cy="43.0" r="2.6" fill="#fee5d9" stroke="#cbb7ad" stroke-width="0.5"/>
<circle cx="729.2" cy="49.9" r="2.6" fill="#fee5d9" stroke="#cbb7ad" stroke-width="0.5"/>
<circle cx="664.8" cy="58.6" r="2.6" fill="#fee5d9" stroke="#cbb7ad" stroke-width="0.5"/>
<circle cx="652.1" cy="62.6" r="2.6" fill="#de2d26" stroke="#b1241e" stroke-width="0.5"/>
<circle cx="736.2" cy="68.5" r="2.6" fill="#de2d26" stroke="#b1241e" stroke-width="0.5"/>
<circle cx="746.4" cy="72.6" r="2.6" fill="#fee5d9" stroke="#cbb7ad" stroke-width="0.5"/>
<circle cx="792.5" cy="62.7" r="2.6" fill="#de2d26" stroke="#b1241e" stroke-width="0.5"/>
<circle cx="796.0" cy="73.6" r="2.6" fill="#fee5d9" stroke="#cbb7ad" stroke-width="0.5"/>
<circle cx="825.2" cy="86.3" r="2.6" fill="#fee5d9" stroke="#cbb7ad" stroke-width="0.5"/>
<circle cx="823.3" cy="95.6" r="2.6" fill="#fee5d9" stroke="#cbb7ad" stroke-width="0.5"/>
<circle cx="846.9" cy="94.6" r="2.6" fill="#fee5d9" stroke="#cbb7ad" stroke-width="0.5"/>
<circle cx="798.6" cy="122.9" r="2.6" fill="#fee5d9" stroke="#cbb7ad" stroke-width="0.5"/>
<circle cx="815.3" cy="141.0" r="2.6" fill="#fb6a4a" stroke="#c8543b" stroke-width="0.5"/>
<circle cx="843.0" cy="136.3" r="2.6" fill="#fee5d9" stroke="#cbb7ad" stroke-width="0.5"/>
<circle cx="839.2" cy="139.6" r="2.6" fill="#fcae91" stroke="#c98b74" stroke-width="0.5"/>
<circle cx="840.2" cy="140.3" r="2.6" fill="#fee5d9" stroke="#cbb7ad" stroke-width="0.5"/>
<circle cx="821.1" cy="154.4" r="2.6" fill="#fee5d9" stroke="#cbb7ad" stroke-width="0.5"/>
<circle cx="820.1" cy="160.1" r="2.6" fill="#fee5d9" stroke="#cbb7ad" stroke-width="0.5"/>
<circle cx="810.5" cy="212.6" r="2.6" fill="#de2d26" stroke="#b1241e" stroke-width="0.5"/>
<circle cx="821.2" cy="230.8" r="2.6" fill="#a50f15" stroke="#840c10" stroke-width="0.5"/>
<circle cx="803.4" cy="234.9" r="2.6" fill="#fee5d9" stroke="#cbb7ad" stroke-width="0.5"/>
<circle cx="816.0" cy="234.9" r="2.6" fill="#fee5d9" stroke="#cbb7ad" stroke-width="0.5"/>
<circle cx="800.4" cy="241.2" r="2.6" fill="#fee5d9" stroke="#cbb7ad" stroke-width="0.5"/>
<circle cx="539.2" cy="217.2" r="2.6" fill="#fee5d9" stroke="#cbb7ad" stroke-width="0.5"/>
<text class="lbl" x="663.0" y="40.6">237</text>
<text class="lbl" x="659.0" y="46.4">235</text>
<text class="lbl" x="675.2" y="41.9">89</text>
<text class="lbl" x="677.0" y="46.4">106</text>
<text class="lbl" x="673.8" y="51.5">46</text>
<text class="lbl" x="710.7" y="40.0">187</text>
<text class="lbl" x="713.2" y="45.1">80</text>
<text class="lbl" x="731.3" y="53.4">232</text>
<text class="lbl" x="667.2" y="61.2">70</text>
<text class="lbl" x="656.4" y="65.2">69</text>
<text class="lbl" x="740.4" y="69.9">178</text>
<text class="lbl" x="749.6" y="76.9">39</text>
<text class="lbl" x="794.6" y="65.0">177</text>
<text class="lbl" x="798.4" y="75.9">405</text>
<text class="lbl" x="828.0" y="88.6">173</text>
<text class="lbl" x="826.1" y="97.9">223</text>
<text class="lbl" x="849.7" y="96.9">189</text>
<text class="lbl" x="800.8" y="125.3">218</text>
<text class="lbl" x="817.6" y="143.3">217</text>
<text class="lbl" x="843.1" y="135.6">258</text>
<text class="lbl" x="846.0" y="141.3">18</text>
<text class="lbl" x="839.8" y="146.7">215</text>
<text class="lbl" x="821.6" y="152.4">214</text>
<text class="lbl" x="824.2" y="157.2">213</text>
<text class="lbl" x="822.6" y="162.4">116</text>
<text class="lbl" x="813.4" y="214.7">134</text>
<text class="lbl" x="823.9" y="232.6">211</text>
<text class="lbl" x="805.7" y="237.1">120</text>
<text class="lbl" x="819.4" y="237.4">137</text>
<text class="lbl" x="803.8" y="243.6">194</text>
<text class="lbl" x="540.2" y="211.7">187</text>
<text class="lbl" x="527.8" y="215.3">159</text>
<text class="lbl" x="543.6" y="215.0">165</text>
<text class="lbl" x="527.6" y="219.9">436</text>
<text class="lbl" x="543.9" y="220.6">129</text>
</g>
<rect x="767.85" y="975.85" width="151.50" height="26.90" fill="#fff" stroke="#333" stroke-width="1.3"/>
<text x="770.15" y="982.90" font-size="7.98" fill="#555" font-weight="bold" textLength="113.13" lengthAdjust="spacingAndGlyphs">BETWEENNESS CENTRALITY</text>
<text x="777.69" y="990.70" font-size="8" fill="#222" stroke="#222" stroke-width="0.15">0</text>
<text x="913.90" y="991.80" font-size="9" fill="#333" text-anchor="end" style="font-family:'Liberation Serif',serif">101</text>
<rect x="780.10" y="992.40" width="25.34" height="8.10" fill="#fee5d9"/>
<rect x="805.44" y="992.40" width="25.34" height="8.10" fill="#fcae91"/>
<rect x="830.78" y="992.40" width="25.34" height="8.10" fill="#fb6a4a"/>
<rect x="856.12" y="992.40" width="25.34" height="8.10" fill="#de2d26"/>
<rect x="881.46" y="992.40" width="25.34" height="8.10" fill="#a50f15"/>
<path d="M805.44,992.40V1000.50M830.78,992.40V1000.50M856.12,992.40V1000.50M881.46,992.40V1000.50" stroke="#333" stroke-width="0.8" fill="none"/>
<rect x="780.10" y="992.40" width="126.70" height="8.10" fill="none" stroke="#333" stroke-width="0.8"/>
<text x="0" y="0" font-size="21.3" fill="#000" transform="translate(479.57,1000.80) scale(1.100,1)">f</text>
<text x="487.77" y="1000.80" font-size="21.3" fill="#000">)</text>
</g>
<g fill="none" stroke="#000" stroke-width="2">
<rect x="11.8" y="26.2" width="917.8" height="984.8"/>
<line x1="471.2" y1="26" x2="471.2" y2="1012"/>
<line x1="11" y1="354.3" x2="930" y2="354.3"/>
<line x1="11" y1="682.5" x2="930" y2="682.5"/>
</g>
</svg></body></html>
